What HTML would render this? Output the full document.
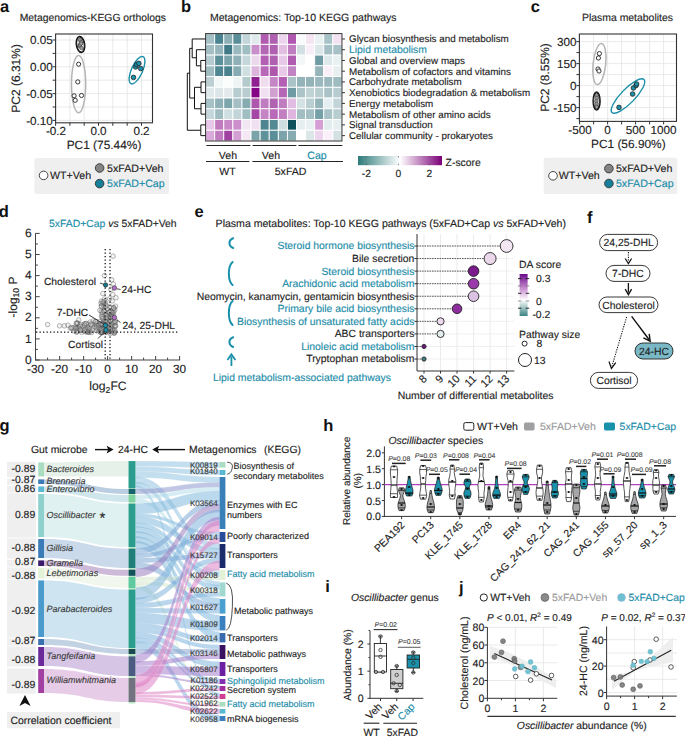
<!DOCTYPE html>
<html><head><meta charset="utf-8"><style>
html,body{margin:0;padding:0;background:#fff;}
svg{display:block;}
text{font-family:"Liberation Sans", sans-serif;text-rendering:geometricPrecision;}
</style></head><body>
<svg width="685" height="737" viewBox="0 0 685 737">
<rect x="0" y="0" width="685" height="737" fill="#fff"/>
<text x="0.00" y="11.80" font-size="16.5" text-anchor="start" fill="#111" font-weight="bold" font-style="normal" >a</text>
<text x="19.70" y="21.00" font-size="10.36" text-anchor="start" fill="#222" font-weight="normal" font-style="normal"  stroke="#222" stroke-width="0.13">Metagenomics-KEGG orthologs</text>
<line x1="69.90" y1="34.00" x2="69.90" y2="122.80" stroke="#e3e3e3" stroke-width="0.8" />
<line x1="84.20" y1="34.00" x2="84.20" y2="122.80" stroke="#e3e3e3" stroke-width="0.8" />
<line x1="98.50" y1="34.00" x2="98.50" y2="122.80" stroke="#e3e3e3" stroke-width="0.8" />
<line x1="112.80" y1="34.00" x2="112.80" y2="122.80" stroke="#e3e3e3" stroke-width="0.8" />
<line x1="127.20" y1="34.00" x2="127.20" y2="122.80" stroke="#e3e3e3" stroke-width="0.8" />
<line x1="141.50" y1="34.00" x2="141.50" y2="122.80" stroke="#e3e3e3" stroke-width="0.8" />
<line x1="55.60" y1="40.00" x2="152.50" y2="40.00" stroke="#e3e3e3" stroke-width="0.8" />
<line x1="55.60" y1="53.40" x2="152.50" y2="53.40" stroke="#e3e3e3" stroke-width="0.8" />
<line x1="55.60" y1="66.80" x2="152.50" y2="66.80" stroke="#e3e3e3" stroke-width="0.8" />
<line x1="55.60" y1="80.20" x2="152.50" y2="80.20" stroke="#e3e3e3" stroke-width="0.8" />
<line x1="55.60" y1="93.60" x2="152.50" y2="93.60" stroke="#e3e3e3" stroke-width="0.8" />
<line x1="55.60" y1="107.00" x2="152.50" y2="107.00" stroke="#e3e3e3" stroke-width="0.8" />
<line x1="55.60" y1="120.40" x2="152.50" y2="120.40" stroke="#e3e3e3" stroke-width="0.8" />
<rect x="55.60" y="34.00" width="96.90" height="88.80" fill="none" stroke="#333" stroke-width="1.1" />
<line x1="52.60" y1="40.00" x2="55.60" y2="40.00" stroke="#333" stroke-width="1" />
<line x1="52.60" y1="53.40" x2="55.60" y2="53.40" stroke="#333" stroke-width="1" />
<line x1="52.60" y1="66.80" x2="55.60" y2="66.80" stroke="#333" stroke-width="1" />
<line x1="52.60" y1="80.20" x2="55.60" y2="80.20" stroke="#333" stroke-width="1" />
<line x1="52.60" y1="93.60" x2="55.60" y2="93.60" stroke="#333" stroke-width="1" />
<line x1="52.60" y1="107.00" x2="55.60" y2="107.00" stroke="#333" stroke-width="1" />
<line x1="52.60" y1="120.40" x2="55.60" y2="120.40" stroke="#333" stroke-width="1" />
<line x1="55.60" y1="122.80" x2="55.60" y2="125.80" stroke="#333" stroke-width="1" />
<line x1="69.90" y1="122.80" x2="69.90" y2="125.80" stroke="#333" stroke-width="1" />
<line x1="84.20" y1="122.80" x2="84.20" y2="125.80" stroke="#333" stroke-width="1" />
<line x1="98.50" y1="122.80" x2="98.50" y2="125.80" stroke="#333" stroke-width="1" />
<line x1="112.80" y1="122.80" x2="112.80" y2="125.80" stroke="#333" stroke-width="1" />
<line x1="127.20" y1="122.80" x2="127.20" y2="125.80" stroke="#333" stroke-width="1" />
<line x1="141.50" y1="122.80" x2="141.50" y2="125.80" stroke="#333" stroke-width="1" />
<text x="52.80" y="44.10" font-size="11.7" text-anchor="end" fill="#222" font-weight="normal" font-style="normal"  stroke="#222" stroke-width="0.13">0.05</text>
<text x="52.80" y="70.90" font-size="11.7" text-anchor="end" fill="#222" font-weight="normal" font-style="normal"  stroke="#222" stroke-width="0.13">0.00</text>
<text x="52.80" y="97.70" font-size="11.7" text-anchor="end" fill="#222" font-weight="normal" font-style="normal"  stroke="#222" stroke-width="0.13">-0.05</text>
<text x="52.80" y="124.50" font-size="11.7" text-anchor="end" fill="#222" font-weight="normal" font-style="normal"  stroke="#222" stroke-width="0.13">-0.10</text>
<text x="56.00" y="134.80" font-size="11.7" text-anchor="middle" fill="#222" font-weight="normal" font-style="normal"  stroke="#222" stroke-width="0.13">-0.2</text>
<text x="98.50" y="134.80" font-size="11.7" text-anchor="middle" fill="#222" font-weight="normal" font-style="normal"  stroke="#222" stroke-width="0.13">0.0</text>
<text x="141.50" y="134.80" font-size="11.7" text-anchor="middle" fill="#222" font-weight="normal" font-style="normal"  stroke="#222" stroke-width="0.13">0.2</text>
<text x="104.00" y="149.00" font-size="11.9" text-anchor="middle" fill="#222" font-weight="normal" font-style="normal"  stroke="#222" stroke-width="0.13">PC1 (75.44%)</text>
<text x="0" y="0" font-size="12" text-anchor="middle" fill="#222" transform="translate(20.2,78.4) rotate(-90)" stroke="#222" stroke-width="0.13">PC2 (6.31%)</text>
<ellipse cx="78.6" cy="84.1" rx="7.1" ry="28.7" fill="none" stroke="#b4b4b4" stroke-width="1.5"/>
<circle cx="78.60" cy="64.20" r="2.10" fill="#fff" stroke="#222" stroke-width="0.9" />
<circle cx="77.80" cy="81.90" r="2.10" fill="#fff" stroke="#222" stroke-width="0.9" />
<circle cx="74.10" cy="95.80" r="2.10" fill="#fff" stroke="#222" stroke-width="0.9" />
<circle cx="75.20" cy="100.30" r="2.10" fill="#fff" stroke="#222" stroke-width="0.9" />
<circle cx="81.50" cy="95.50" r="2.10" fill="#fff" stroke="#222" stroke-width="0.9" />
<circle cx="80.00" cy="40.00" r="1.80" fill="#9a9a9a" stroke="#333" stroke-width="0.55" />
<circle cx="81.00" cy="42.00" r="1.80" fill="#9a9a9a" stroke="#333" stroke-width="0.55" />
<circle cx="80.50" cy="44.00" r="1.80" fill="#9a9a9a" stroke="#333" stroke-width="0.55" />
<circle cx="79.50" cy="46.00" r="1.80" fill="#9a9a9a" stroke="#333" stroke-width="0.55" />
<circle cx="81.50" cy="48.00" r="1.80" fill="#9a9a9a" stroke="#333" stroke-width="0.55" />
<circle cx="80.00" cy="45.00" r="1.80" fill="#9a9a9a" stroke="#333" stroke-width="0.55" />
<circle cx="81.00" cy="43.50" r="1.80" fill="#9a9a9a" stroke="#333" stroke-width="0.55" />
<ellipse cx="80.5" cy="44.5" rx="4.3" ry="8.2" fill="none" stroke="#111" stroke-width="1.2" transform="rotate(-8 80.5 44.5)"/>
<ellipse cx="80.5" cy="44.5" rx="3.7" ry="7.4" fill="none" stroke="#111" stroke-width="0.9" transform="rotate(-8 80.5 44.5)"/>
<ellipse cx="137" cy="70.2" rx="5.6" ry="14.8" fill="none" stroke="#1a8fa8" stroke-width="1.4" transform="rotate(24 137 70.2)"/>
<circle cx="133.50" cy="77.40" r="2.30" fill="#1a91aa" stroke="#222" stroke-width="0.8" />
<circle cx="135.60" cy="66.90" r="2.30" fill="#1a91aa" stroke="#222" stroke-width="0.8" />
<circle cx="136.70" cy="64.50" r="2.30" fill="#1a91aa" stroke="#222" stroke-width="0.8" />
<circle cx="138.80" cy="63.40" r="2.30" fill="#1a91aa" stroke="#222" stroke-width="0.8" />
<circle cx="140.70" cy="68.50" r="2.30" fill="#1a91aa" stroke="#222" stroke-width="0.8" />
<rect x="34.4" y="158" width="134.6" height="36" rx="2" fill="#efefef"/>
<circle cx="43.60" cy="175.40" r="4.30" fill="#fff" stroke="#333" stroke-width="0.9" />
<text x="50.00" y="179.00" font-size="10.65" text-anchor="start" fill="#222" font-weight="normal" font-style="normal"  stroke="#222" stroke-width="0.13">WT+Veh</text>
<circle cx="99.60" cy="168.00" r="4.30" fill="#858585" stroke="#333" stroke-width="0.9" />
<text x="107.00" y="172.00" font-size="10.65" text-anchor="start" fill="#222" font-weight="normal" font-style="normal"  stroke="#222" stroke-width="0.13">5xFAD+Veh</text>
<circle cx="99.60" cy="183.60" r="4.30" fill="#16809a" stroke="#333" stroke-width="0.9" />
<text x="107.00" y="187.30" font-size="10.65" text-anchor="start" fill="#1a8ca8" font-weight="normal" font-style="normal"  stroke="#1a8ca8" stroke-width="0.13">5xFAD+Cap</text>
<text x="530.80" y="11.80" font-size="16.5" text-anchor="start" fill="#111" font-weight="bold" font-style="normal" >c</text>
<text x="582.00" y="20.80" font-size="10.43" text-anchor="start" fill="#222" font-weight="normal" font-style="normal"  stroke="#222" stroke-width="0.13">Plasma metabolites</text>
<line x1="593.60" y1="34.00" x2="593.60" y2="121.40" stroke="#e3e3e3" stroke-width="0.8" />
<line x1="607.60" y1="34.00" x2="607.60" y2="121.40" stroke="#e3e3e3" stroke-width="0.8" />
<line x1="621.60" y1="34.00" x2="621.60" y2="121.40" stroke="#e3e3e3" stroke-width="0.8" />
<line x1="635.60" y1="34.00" x2="635.60" y2="121.40" stroke="#e3e3e3" stroke-width="0.8" />
<line x1="649.60" y1="34.00" x2="649.60" y2="121.40" stroke="#e3e3e3" stroke-width="0.8" />
<line x1="663.60" y1="34.00" x2="663.60" y2="121.40" stroke="#e3e3e3" stroke-width="0.8" />
<line x1="579.40" y1="41.60" x2="676.50" y2="41.60" stroke="#e3e3e3" stroke-width="0.8" />
<line x1="579.40" y1="52.60" x2="676.50" y2="52.60" stroke="#e3e3e3" stroke-width="0.8" />
<line x1="579.40" y1="63.60" x2="676.50" y2="63.60" stroke="#e3e3e3" stroke-width="0.8" />
<line x1="579.40" y1="74.60" x2="676.50" y2="74.60" stroke="#e3e3e3" stroke-width="0.8" />
<line x1="579.40" y1="85.60" x2="676.50" y2="85.60" stroke="#e3e3e3" stroke-width="0.8" />
<line x1="579.40" y1="96.60" x2="676.50" y2="96.60" stroke="#e3e3e3" stroke-width="0.8" />
<line x1="579.40" y1="107.60" x2="676.50" y2="107.60" stroke="#e3e3e3" stroke-width="0.8" />
<line x1="579.40" y1="118.60" x2="676.50" y2="118.60" stroke="#e3e3e3" stroke-width="0.8" />
<rect x="579.40" y="34.00" width="97.10" height="87.40" fill="none" stroke="#333" stroke-width="1.1" />
<line x1="576.40" y1="41.60" x2="579.40" y2="41.60" stroke="#333" stroke-width="1" />
<line x1="576.40" y1="52.60" x2="579.40" y2="52.60" stroke="#333" stroke-width="1" />
<line x1="576.40" y1="63.60" x2="579.40" y2="63.60" stroke="#333" stroke-width="1" />
<line x1="576.40" y1="74.60" x2="579.40" y2="74.60" stroke="#333" stroke-width="1" />
<line x1="576.40" y1="85.60" x2="579.40" y2="85.60" stroke="#333" stroke-width="1" />
<line x1="576.40" y1="96.60" x2="579.40" y2="96.60" stroke="#333" stroke-width="1" />
<line x1="576.40" y1="107.60" x2="579.40" y2="107.60" stroke="#333" stroke-width="1" />
<line x1="576.40" y1="118.60" x2="579.40" y2="118.60" stroke="#333" stroke-width="1" />
<line x1="579.60" y1="121.40" x2="579.60" y2="124.40" stroke="#333" stroke-width="1" />
<line x1="593.60" y1="121.40" x2="593.60" y2="124.40" stroke="#333" stroke-width="1" />
<line x1="607.60" y1="121.40" x2="607.60" y2="124.40" stroke="#333" stroke-width="1" />
<line x1="621.60" y1="121.40" x2="621.60" y2="124.40" stroke="#333" stroke-width="1" />
<line x1="635.60" y1="121.40" x2="635.60" y2="124.40" stroke="#333" stroke-width="1" />
<line x1="649.60" y1="121.40" x2="649.60" y2="124.40" stroke="#333" stroke-width="1" />
<line x1="663.60" y1="121.40" x2="663.60" y2="124.40" stroke="#333" stroke-width="1" />
<text x="576.60" y="45.70" font-size="11.7" text-anchor="end" fill="#222" font-weight="normal" font-style="normal"  stroke="#222" stroke-width="0.13">300</text>
<text x="576.60" y="67.70" font-size="11.7" text-anchor="end" fill="#222" font-weight="normal" font-style="normal"  stroke="#222" stroke-width="0.13">150</text>
<text x="576.60" y="89.70" font-size="11.7" text-anchor="end" fill="#222" font-weight="normal" font-style="normal"  stroke="#222" stroke-width="0.13">0</text>
<text x="576.60" y="111.70" font-size="11.7" text-anchor="end" fill="#222" font-weight="normal" font-style="normal"  stroke="#222" stroke-width="0.13">-150</text>
<text x="580.00" y="133.80" font-size="11.7" text-anchor="middle" fill="#222" font-weight="normal" font-style="normal"  stroke="#222" stroke-width="0.13">-500</text>
<text x="607.60" y="133.80" font-size="11.7" text-anchor="middle" fill="#222" font-weight="normal" font-style="normal"  stroke="#222" stroke-width="0.13">0</text>
<text x="635.60" y="133.80" font-size="11.7" text-anchor="middle" fill="#222" font-weight="normal" font-style="normal"  stroke="#222" stroke-width="0.13">500</text>
<text x="663.60" y="133.80" font-size="11.7" text-anchor="middle" fill="#222" font-weight="normal" font-style="normal"  stroke="#222" stroke-width="0.13">1000</text>
<text x="628.30" y="148.00" font-size="11.9" text-anchor="middle" fill="#222" font-weight="normal" font-style="normal"  stroke="#222" stroke-width="0.13">PC1 (56.90%)</text>
<text x="0" y="0" font-size="12" text-anchor="middle" fill="#222" transform="translate(548.8,77.5) rotate(-90)" stroke="#222" stroke-width="0.13">PC2 (8.55%)</text>
<ellipse cx="599.4" cy="64" rx="6.3" ry="20.7" fill="none" stroke="#b4b4b4" stroke-width="1.5" transform="rotate(6 599.4 64)"/>
<circle cx="599.40" cy="53.60" r="2.10" fill="#fff" stroke="#222" stroke-width="0.9" />
<circle cx="598.40" cy="58.00" r="2.10" fill="#fff" stroke="#222" stroke-width="0.9" />
<circle cx="598.00" cy="69.00" r="2.10" fill="#fff" stroke="#222" stroke-width="0.9" />
<circle cx="599.00" cy="71.00" r="2.10" fill="#fff" stroke="#222" stroke-width="0.9" />
<circle cx="596.60" cy="95.00" r="1.80" fill="#9a9a9a" stroke="#333" stroke-width="0.55" />
<circle cx="596.80" cy="98.00" r="1.80" fill="#9a9a9a" stroke="#333" stroke-width="0.55" />
<circle cx="596.40" cy="101.00" r="1.80" fill="#9a9a9a" stroke="#333" stroke-width="0.55" />
<circle cx="596.60" cy="104.00" r="1.80" fill="#9a9a9a" stroke="#333" stroke-width="0.55" />
<circle cx="596.80" cy="107.00" r="1.80" fill="#9a9a9a" stroke="#333" stroke-width="0.55" />
<ellipse cx="596.6" cy="101" rx="3.6" ry="9.2" fill="none" stroke="#111" stroke-width="1.2"/>
<ellipse cx="596.6" cy="101" rx="2.9" ry="8.4" fill="none" stroke="#111" stroke-width="0.8"/>
<ellipse cx="628" cy="96" rx="7" ry="23" fill="none" stroke="#1a8fa8" stroke-width="1.4" transform="rotate(44 628 96)"/>
<circle cx="619.00" cy="107.40" r="2.30" fill="#1a91aa" stroke="#222" stroke-width="0.8" />
<circle cx="632.60" cy="94.00" r="2.30" fill="#1a91aa" stroke="#222" stroke-width="0.8" />
<circle cx="633.40" cy="88.00" r="2.30" fill="#1a91aa" stroke="#222" stroke-width="0.8" />
<circle cx="636.00" cy="85.60" r="2.30" fill="#1a91aa" stroke="#222" stroke-width="0.8" />
<circle cx="636.60" cy="84.00" r="2.30" fill="#1a91aa" stroke="#222" stroke-width="0.8" />
<rect x="543.7" y="157.7" width="133.5" height="36.3" rx="2" fill="#efefef"/>
<circle cx="553.00" cy="175.80" r="4.30" fill="#fff" stroke="#333" stroke-width="0.9" />
<text x="558.70" y="179.40" font-size="10.65" text-anchor="start" fill="#222" font-weight="normal" font-style="normal"  stroke="#222" stroke-width="0.13">WT+Veh</text>
<circle cx="608.90" cy="168.60" r="4.30" fill="#858585" stroke="#333" stroke-width="0.9" />
<text x="615.90" y="172.30" font-size="10.65" text-anchor="start" fill="#222" font-weight="normal" font-style="normal"  stroke="#222" stroke-width="0.13">5xFAD+Veh</text>
<circle cx="608.90" cy="183.50" r="4.30" fill="#16809a" stroke="#333" stroke-width="0.9" />
<text x="615.90" y="187.30" font-size="10.65" text-anchor="start" fill="#1a8ca8" font-weight="normal" font-style="normal"  stroke="#1a8ca8" stroke-width="0.13">5xFAD+Cap</text>
<text x="181.00" y="11.80" font-size="16.5" text-anchor="start" fill="#111" font-weight="bold" font-style="normal" >b</text>
<text x="210.00" y="21.00" font-size="10.5" text-anchor="start" fill="#222" font-weight="normal" font-style="normal"  stroke="#222" stroke-width="0.13">Metagenomics: Top-10 KEGG pathways</text>
<rect x="205.60" y="33.60" width="9.09" height="10.74" fill="#a5c1c6" stroke="#fff" stroke-width="0.9" />
<rect x="214.69" y="33.60" width="9.09" height="10.74" fill="#4a8490" stroke="#fff" stroke-width="0.9" />
<rect x="223.78" y="33.60" width="9.09" height="10.74" fill="#8db0b6" stroke="#fff" stroke-width="0.9" />
<rect x="232.87" y="33.60" width="9.09" height="10.74" fill="#5a8e98" stroke="#fff" stroke-width="0.9" />
<rect x="241.96" y="33.60" width="9.09" height="10.74" fill="#c2d5d9" stroke="#fff" stroke-width="0.9" />
<rect x="251.05" y="33.60" width="9.09" height="10.74" fill="#e0eaec" stroke="#fff" stroke-width="0.9" />
<rect x="260.14" y="33.60" width="9.09" height="10.74" fill="#b05cb0" stroke="#fff" stroke-width="0.9" />
<rect x="269.23" y="33.60" width="9.09" height="10.74" fill="#b060b0" stroke="#fff" stroke-width="0.9" />
<rect x="278.32" y="33.60" width="9.09" height="10.74" fill="#ecd5ec" stroke="#fff" stroke-width="0.9" />
<rect x="287.41" y="33.60" width="9.09" height="10.74" fill="#b058b0" stroke="#fff" stroke-width="0.9" />
<rect x="296.50" y="33.60" width="9.09" height="10.74" fill="#f8fafb" stroke="#fff" stroke-width="0.9" />
<rect x="305.59" y="33.60" width="9.09" height="10.74" fill="#f5e5f3" stroke="#fff" stroke-width="0.9" />
<rect x="314.68" y="33.60" width="9.09" height="10.74" fill="#eaf1f2" stroke="#fff" stroke-width="0.9" />
<rect x="323.77" y="33.60" width="9.09" height="10.74" fill="#a8c3c7" stroke="#fff" stroke-width="0.9" />
<rect x="332.86" y="33.60" width="9.09" height="10.74" fill="#f3e3f2" stroke="#fff" stroke-width="0.9" />
<rect x="205.60" y="44.34" width="9.09" height="10.74" fill="#a3bfc4" stroke="#fff" stroke-width="0.9" />
<rect x="214.69" y="44.34" width="9.09" height="10.74" fill="#95b5bb" stroke="#fff" stroke-width="0.9" />
<rect x="223.78" y="44.34" width="9.09" height="10.74" fill="#3f7a86" stroke="#fff" stroke-width="0.9" />
<rect x="232.87" y="44.34" width="9.09" height="10.74" fill="#9ab9bf" stroke="#fff" stroke-width="0.9" />
<rect x="241.96" y="44.34" width="9.09" height="10.74" fill="#a0bdc2" stroke="#fff" stroke-width="0.9" />
<rect x="251.05" y="44.34" width="9.09" height="10.74" fill="#c98fcb" stroke="#fff" stroke-width="0.9" />
<rect x="260.14" y="44.34" width="9.09" height="10.74" fill="#b366b3" stroke="#fff" stroke-width="0.9" />
<rect x="269.23" y="44.34" width="9.09" height="10.74" fill="#b060b0" stroke="#fff" stroke-width="0.9" />
<rect x="278.32" y="44.34" width="9.09" height="10.74" fill="#e2bee2" stroke="#fff" stroke-width="0.9" />
<rect x="287.41" y="44.34" width="9.09" height="10.74" fill="#bf7cbf" stroke="#fff" stroke-width="0.9" />
<rect x="296.50" y="44.34" width="9.09" height="10.74" fill="#d2e0e3" stroke="#fff" stroke-width="0.9" />
<rect x="305.59" y="44.34" width="9.09" height="10.74" fill="#f7eef7" stroke="#fff" stroke-width="0.9" />
<rect x="314.68" y="44.34" width="9.09" height="10.74" fill="#dae6e8" stroke="#fff" stroke-width="0.9" />
<rect x="323.77" y="44.34" width="9.09" height="10.74" fill="#a3bfc4" stroke="#fff" stroke-width="0.9" />
<rect x="332.86" y="44.34" width="9.09" height="10.74" fill="#a7c1c6" stroke="#fff" stroke-width="0.9" />
<rect x="205.60" y="55.08" width="9.09" height="10.74" fill="#b5cbcf" stroke="#fff" stroke-width="0.9" />
<rect x="214.69" y="55.08" width="9.09" height="10.74" fill="#5b8f99" stroke="#fff" stroke-width="0.9" />
<rect x="223.78" y="55.08" width="9.09" height="10.74" fill="#7aa3aa" stroke="#fff" stroke-width="0.9" />
<rect x="232.87" y="55.08" width="9.09" height="10.74" fill="#8eb0b6" stroke="#fff" stroke-width="0.9" />
<rect x="241.96" y="55.08" width="9.09" height="10.74" fill="#c5d7da" stroke="#fff" stroke-width="0.9" />
<rect x="251.05" y="55.08" width="9.09" height="10.74" fill="#ecd8ec" stroke="#fff" stroke-width="0.9" />
<rect x="260.14" y="55.08" width="9.09" height="10.74" fill="#b35fb3" stroke="#fff" stroke-width="0.9" />
<rect x="269.23" y="55.08" width="9.09" height="10.74" fill="#b060b0" stroke="#fff" stroke-width="0.9" />
<rect x="278.32" y="55.08" width="9.09" height="10.74" fill="#e8c8e8" stroke="#fff" stroke-width="0.9" />
<rect x="287.41" y="55.08" width="9.09" height="10.74" fill="#b05ab0" stroke="#fff" stroke-width="0.9" />
<rect x="296.50" y="55.08" width="9.09" height="10.74" fill="#f3f7f7" stroke="#fff" stroke-width="0.9" />
<rect x="305.59" y="55.08" width="9.09" height="10.74" fill="#ffffff" stroke="#fff" stroke-width="0.9" />
<rect x="314.68" y="55.08" width="9.09" height="10.74" fill="#6f9ba4" stroke="#fff" stroke-width="0.9" />
<rect x="323.77" y="55.08" width="9.09" height="10.74" fill="#dde8ea" stroke="#fff" stroke-width="0.9" />
<rect x="332.86" y="55.08" width="9.09" height="10.74" fill="#e9f0f1" stroke="#fff" stroke-width="0.9" />
<rect x="205.60" y="65.82" width="9.09" height="10.74" fill="#9fbcc1" stroke="#fff" stroke-width="0.9" />
<rect x="214.69" y="65.82" width="9.09" height="10.74" fill="#4e8691" stroke="#fff" stroke-width="0.9" />
<rect x="223.78" y="65.82" width="9.09" height="10.74" fill="#4a838e" stroke="#fff" stroke-width="0.9" />
<rect x="232.87" y="65.82" width="9.09" height="10.74" fill="#86abb2" stroke="#fff" stroke-width="0.9" />
<rect x="241.96" y="65.82" width="9.09" height="10.74" fill="#d0dfe1" stroke="#fff" stroke-width="0.9" />
<rect x="251.05" y="65.82" width="9.09" height="10.74" fill="#dcb5dc" stroke="#fff" stroke-width="0.9" />
<rect x="260.14" y="65.82" width="9.09" height="10.74" fill="#b968b9" stroke="#fff" stroke-width="0.9" />
<rect x="269.23" y="65.82" width="9.09" height="10.74" fill="#ad58ad" stroke="#fff" stroke-width="0.9" />
<rect x="278.32" y="65.82" width="9.09" height="10.74" fill="#e8c9e8" stroke="#fff" stroke-width="0.9" />
<rect x="287.41" y="65.82" width="9.09" height="10.74" fill="#c283c2" stroke="#fff" stroke-width="0.9" />
<rect x="296.50" y="65.82" width="9.09" height="10.74" fill="#ffffff" stroke="#fff" stroke-width="0.9" />
<rect x="305.59" y="65.82" width="9.09" height="10.74" fill="#ffffff" stroke="#fff" stroke-width="0.9" />
<rect x="314.68" y="65.82" width="9.09" height="10.74" fill="#96b5bb" stroke="#fff" stroke-width="0.9" />
<rect x="323.77" y="65.82" width="9.09" height="10.74" fill="#f8eff8" stroke="#fff" stroke-width="0.9" />
<rect x="332.86" y="65.82" width="9.09" height="10.74" fill="#e8eff0" stroke="#fff" stroke-width="0.9" />
<rect x="205.60" y="76.56" width="9.09" height="10.74" fill="#bcd0d4" stroke="#fff" stroke-width="0.9" />
<rect x="214.69" y="76.56" width="9.09" height="10.74" fill="#f1f6f6" stroke="#fff" stroke-width="0.9" />
<rect x="223.78" y="76.56" width="9.09" height="10.74" fill="#fbfcfc" stroke="#fff" stroke-width="0.9" />
<rect x="232.87" y="76.56" width="9.09" height="10.74" fill="#eef3f3" stroke="#fff" stroke-width="0.9" />
<rect x="241.96" y="76.56" width="9.09" height="10.74" fill="#b4cacd" stroke="#fff" stroke-width="0.9" />
<rect x="251.05" y="76.56" width="9.09" height="10.74" fill="#8f2290" stroke="#fff" stroke-width="0.9" />
<rect x="260.14" y="76.56" width="9.09" height="10.74" fill="#efdcef" stroke="#fff" stroke-width="0.9" />
<rect x="269.23" y="76.56" width="9.09" height="10.74" fill="#c486c4" stroke="#fff" stroke-width="0.9" />
<rect x="278.32" y="76.56" width="9.09" height="10.74" fill="#b35fb3" stroke="#fff" stroke-width="0.9" />
<rect x="287.41" y="76.56" width="9.09" height="10.74" fill="#a9c3c7" stroke="#fff" stroke-width="0.9" />
<rect x="296.50" y="76.56" width="9.09" height="10.74" fill="#93b3b9" stroke="#fff" stroke-width="0.9" />
<rect x="305.59" y="76.56" width="9.09" height="10.74" fill="#93b3b9" stroke="#fff" stroke-width="0.9" />
<rect x="314.68" y="76.56" width="9.09" height="10.74" fill="#9ab8be" stroke="#fff" stroke-width="0.9" />
<rect x="323.77" y="76.56" width="9.09" height="10.74" fill="#9ab8be" stroke="#fff" stroke-width="0.9" />
<rect x="332.86" y="76.56" width="9.09" height="10.74" fill="#9fbcc1" stroke="#fff" stroke-width="0.9" />
<rect x="205.60" y="87.30" width="9.09" height="10.74" fill="#dfe8ea" stroke="#fff" stroke-width="0.9" />
<rect x="214.69" y="87.30" width="9.09" height="10.74" fill="#dce6e8" stroke="#fff" stroke-width="0.9" />
<rect x="223.78" y="87.30" width="9.09" height="10.74" fill="#e2eaec" stroke="#fff" stroke-width="0.9" />
<rect x="232.87" y="87.30" width="9.09" height="10.74" fill="#b7cccf" stroke="#fff" stroke-width="0.9" />
<rect x="241.96" y="87.30" width="9.09" height="10.74" fill="#b9cdd1" stroke="#fff" stroke-width="0.9" />
<rect x="251.05" y="87.30" width="9.09" height="10.74" fill="#850385" stroke="#fff" stroke-width="0.9" />
<rect x="260.14" y="87.30" width="9.09" height="10.74" fill="#f1e0f1" stroke="#fff" stroke-width="0.9" />
<rect x="269.23" y="87.30" width="9.09" height="10.74" fill="#d0a0d0" stroke="#fff" stroke-width="0.9" />
<rect x="278.32" y="87.30" width="9.09" height="10.74" fill="#b566b5" stroke="#fff" stroke-width="0.9" />
<rect x="287.41" y="87.30" width="9.09" height="10.74" fill="#6f9ba4" stroke="#fff" stroke-width="0.9" />
<rect x="296.50" y="87.30" width="9.09" height="10.74" fill="#abc4c8" stroke="#fff" stroke-width="0.9" />
<rect x="305.59" y="87.30" width="9.09" height="10.74" fill="#bfd2d6" stroke="#fff" stroke-width="0.9" />
<rect x="314.68" y="87.30" width="9.09" height="10.74" fill="#b8cdd0" stroke="#fff" stroke-width="0.9" />
<rect x="323.77" y="87.30" width="9.09" height="10.74" fill="#a9c3c7" stroke="#fff" stroke-width="0.9" />
<rect x="332.86" y="87.30" width="9.09" height="10.74" fill="#b7ccd0" stroke="#fff" stroke-width="0.9" />
<rect x="205.60" y="98.04" width="9.09" height="10.74" fill="#a7c2c6" stroke="#fff" stroke-width="0.9" />
<rect x="214.69" y="98.04" width="9.09" height="10.74" fill="#8fb0b6" stroke="#fff" stroke-width="0.9" />
<rect x="223.78" y="98.04" width="9.09" height="10.74" fill="#7da5ac" stroke="#fff" stroke-width="0.9" />
<rect x="232.87" y="98.04" width="9.09" height="10.74" fill="#a3bfc4" stroke="#fff" stroke-width="0.9" />
<rect x="241.96" y="98.04" width="9.09" height="10.74" fill="#86abb1" stroke="#fff" stroke-width="0.9" />
<rect x="251.05" y="98.04" width="9.09" height="10.74" fill="#ad58ad" stroke="#fff" stroke-width="0.9" />
<rect x="260.14" y="98.04" width="9.09" height="10.74" fill="#c07cc0" stroke="#fff" stroke-width="0.9" />
<rect x="269.23" y="98.04" width="9.09" height="10.74" fill="#b063b0" stroke="#fff" stroke-width="0.9" />
<rect x="278.32" y="98.04" width="9.09" height="10.74" fill="#c07cc0" stroke="#fff" stroke-width="0.9" />
<rect x="287.41" y="98.04" width="9.09" height="10.74" fill="#e2bde2" stroke="#fff" stroke-width="0.9" />
<rect x="296.50" y="98.04" width="9.09" height="10.74" fill="#d5e2e4" stroke="#fff" stroke-width="0.9" />
<rect x="305.59" y="98.04" width="9.09" height="10.74" fill="#bacfd2" stroke="#fff" stroke-width="0.9" />
<rect x="314.68" y="98.04" width="9.09" height="10.74" fill="#94b4ba" stroke="#fff" stroke-width="0.9" />
<rect x="323.77" y="98.04" width="9.09" height="10.74" fill="#e5eef0" stroke="#fff" stroke-width="0.9" />
<rect x="332.86" y="98.04" width="9.09" height="10.74" fill="#c3d5d8" stroke="#fff" stroke-width="0.9" />
<rect x="205.60" y="108.78" width="9.09" height="10.74" fill="#c5d7da" stroke="#fff" stroke-width="0.9" />
<rect x="214.69" y="108.78" width="9.09" height="10.74" fill="#9fbcc1" stroke="#fff" stroke-width="0.9" />
<rect x="223.78" y="108.78" width="9.09" height="10.74" fill="#cfdee0" stroke="#fff" stroke-width="0.9" />
<rect x="232.87" y="108.78" width="9.09" height="10.74" fill="#c3d5d8" stroke="#fff" stroke-width="0.9" />
<rect x="241.96" y="108.78" width="9.09" height="10.74" fill="#a0bdc2" stroke="#fff" stroke-width="0.9" />
<rect x="251.05" y="108.78" width="9.09" height="10.74" fill="#a548a5" stroke="#fff" stroke-width="0.9" />
<rect x="260.14" y="108.78" width="9.09" height="10.74" fill="#c585c5" stroke="#fff" stroke-width="0.9" />
<rect x="269.23" y="108.78" width="9.09" height="10.74" fill="#b86ab8" stroke="#fff" stroke-width="0.9" />
<rect x="278.32" y="108.78" width="9.09" height="10.74" fill="#c27fc2" stroke="#fff" stroke-width="0.9" />
<rect x="287.41" y="108.78" width="9.09" height="10.74" fill="#dfb5df" stroke="#fff" stroke-width="0.9" />
<rect x="296.50" y="108.78" width="9.09" height="10.74" fill="#a1bec3" stroke="#fff" stroke-width="0.9" />
<rect x="305.59" y="108.78" width="9.09" height="10.74" fill="#a3bfc4" stroke="#fff" stroke-width="0.9" />
<rect x="314.68" y="108.78" width="9.09" height="10.74" fill="#76a0a8" stroke="#fff" stroke-width="0.9" />
<rect x="323.77" y="108.78" width="9.09" height="10.74" fill="#a8c2c7" stroke="#fff" stroke-width="0.9" />
<rect x="332.86" y="108.78" width="9.09" height="10.74" fill="#b8cdd0" stroke="#fff" stroke-width="0.9" />
<rect x="205.60" y="119.52" width="9.09" height="10.74" fill="#e8c8e8" stroke="#fff" stroke-width="0.9" />
<rect x="214.69" y="119.52" width="9.09" height="10.74" fill="#c07ac0" stroke="#fff" stroke-width="0.9" />
<rect x="223.78" y="119.52" width="9.09" height="10.74" fill="#c888c8" stroke="#fff" stroke-width="0.9" />
<rect x="232.87" y="119.52" width="9.09" height="10.74" fill="#cb8fcb" stroke="#fff" stroke-width="0.9" />
<rect x="241.96" y="119.52" width="9.09" height="10.74" fill="#f3e6f3" stroke="#fff" stroke-width="0.9" />
<rect x="251.05" y="119.52" width="9.09" height="10.74" fill="#f0e0f0" stroke="#fff" stroke-width="0.9" />
<rect x="260.14" y="119.52" width="9.09" height="10.74" fill="#4e8590" stroke="#fff" stroke-width="0.9" />
<rect x="269.23" y="119.52" width="9.09" height="10.74" fill="#548a94" stroke="#fff" stroke-width="0.9" />
<rect x="278.32" y="119.52" width="9.09" height="10.74" fill="#cfdee0" stroke="#fff" stroke-width="0.9" />
<rect x="287.41" y="119.52" width="9.09" height="10.74" fill="#0f4f5c" stroke="#fff" stroke-width="0.9" />
<rect x="296.50" y="119.52" width="9.09" height="10.74" fill="#e6eef0" stroke="#fff" stroke-width="0.9" />
<rect x="305.59" y="119.52" width="9.09" height="10.74" fill="#e9f0f1" stroke="#fff" stroke-width="0.9" />
<rect x="314.68" y="119.52" width="9.09" height="10.74" fill="#d59ed5" stroke="#fff" stroke-width="0.9" />
<rect x="323.77" y="119.52" width="9.09" height="10.74" fill="#e2ebed" stroke="#fff" stroke-width="0.9" />
<rect x="332.86" y="119.52" width="9.09" height="10.74" fill="#e6eef0" stroke="#fff" stroke-width="0.9" />
<rect x="205.60" y="130.26" width="9.09" height="10.74" fill="#d9a9d9" stroke="#fff" stroke-width="0.9" />
<rect x="214.69" y="130.26" width="9.09" height="10.74" fill="#c07ac0" stroke="#fff" stroke-width="0.9" />
<rect x="223.78" y="130.26" width="9.09" height="10.74" fill="#a040a0" stroke="#fff" stroke-width="0.9" />
<rect x="232.87" y="130.26" width="9.09" height="10.74" fill="#d49fd3" stroke="#fff" stroke-width="0.9" />
<rect x="241.96" y="130.26" width="9.09" height="10.74" fill="#f5e8f5" stroke="#fff" stroke-width="0.9" />
<rect x="251.05" y="130.26" width="9.09" height="10.74" fill="#7aa3aa" stroke="#fff" stroke-width="0.9" />
<rect x="260.14" y="130.26" width="9.09" height="10.74" fill="#60929b" stroke="#fff" stroke-width="0.9" />
<rect x="269.23" y="130.26" width="9.09" height="10.74" fill="#5a8e98" stroke="#fff" stroke-width="0.9" />
<rect x="278.32" y="130.26" width="9.09" height="10.74" fill="#7aa3aa" stroke="#fff" stroke-width="0.9" />
<rect x="287.41" y="130.26" width="9.09" height="10.74" fill="#86abb1" stroke="#fff" stroke-width="0.9" />
<rect x="296.50" y="130.26" width="9.09" height="10.74" fill="#ffffff" stroke="#fff" stroke-width="0.9" />
<rect x="305.59" y="130.26" width="9.09" height="10.74" fill="#dae6e8" stroke="#fff" stroke-width="0.9" />
<rect x="314.68" y="130.26" width="9.09" height="10.74" fill="#ecd4ec" stroke="#fff" stroke-width="0.9" />
<rect x="323.77" y="130.26" width="9.09" height="10.74" fill="#f9f0f9" stroke="#fff" stroke-width="0.9" />
<rect x="332.86" y="130.26" width="9.09" height="10.74" fill="#d3e1e3" stroke="#fff" stroke-width="0.9" />
<rect x="205.60" y="33.60" width="136.35" height="107.40" fill="none" stroke="#333" stroke-width="1" />
<line x1="341.95" y1="38.97" x2="344.95" y2="38.97" stroke="#333" stroke-width="1" />
<text x="349.00" y="42.47" font-size="9.85" text-anchor="start" fill="#222" font-weight="normal" font-style="normal"  stroke="#222" stroke-width="0.13">Glycan biosynthesis and metabolism</text>
<line x1="341.95" y1="49.71" x2="344.95" y2="49.71" stroke="#333" stroke-width="1" />
<text x="349.00" y="53.21" font-size="10.4" text-anchor="start" fill="#1a8ca8" font-weight="normal" font-style="normal"  stroke="#1a8ca8" stroke-width="0.13">Lipid metabolism</text>
<line x1="341.95" y1="60.45" x2="344.95" y2="60.45" stroke="#333" stroke-width="1" />
<text x="349.00" y="63.95" font-size="9.85" text-anchor="start" fill="#222" font-weight="normal" font-style="normal"  stroke="#222" stroke-width="0.13">Global and overview maps</text>
<line x1="341.95" y1="71.19" x2="344.95" y2="71.19" stroke="#333" stroke-width="1" />
<text x="349.00" y="74.69" font-size="9.85" text-anchor="start" fill="#222" font-weight="normal" font-style="normal"  stroke="#222" stroke-width="0.13">Metabolism of cofactors and vitamins</text>
<line x1="341.95" y1="81.93" x2="344.95" y2="81.93" stroke="#333" stroke-width="1" />
<text x="349.00" y="85.43" font-size="9.85" text-anchor="start" fill="#222" font-weight="normal" font-style="normal"  stroke="#222" stroke-width="0.13">Carbohydrate metabolism</text>
<line x1="341.95" y1="92.67" x2="344.95" y2="92.67" stroke="#333" stroke-width="1" />
<text x="349.00" y="96.17" font-size="9.85" text-anchor="start" fill="#222" font-weight="normal" font-style="normal"  stroke="#222" stroke-width="0.13">Xenobiotics biodegradation &amp; metabolism</text>
<line x1="341.95" y1="103.41" x2="344.95" y2="103.41" stroke="#333" stroke-width="1" />
<text x="349.00" y="106.91" font-size="9.85" text-anchor="start" fill="#222" font-weight="normal" font-style="normal"  stroke="#222" stroke-width="0.13">Energy metabolism</text>
<line x1="341.95" y1="114.15" x2="344.95" y2="114.15" stroke="#333" stroke-width="1" />
<text x="349.00" y="117.65" font-size="9.85" text-anchor="start" fill="#222" font-weight="normal" font-style="normal"  stroke="#222" stroke-width="0.13">Metabolism of other amino acids</text>
<line x1="341.95" y1="124.89" x2="344.95" y2="124.89" stroke="#333" stroke-width="1" />
<text x="349.00" y="128.39" font-size="9.85" text-anchor="start" fill="#222" font-weight="normal" font-style="normal"  stroke="#222" stroke-width="0.13">Signal transduction</text>
<line x1="341.95" y1="135.63" x2="344.95" y2="135.63" stroke="#333" stroke-width="1" />
<text x="349.00" y="139.13" font-size="9.85" text-anchor="start" fill="#222" font-weight="normal" font-style="normal"  stroke="#222" stroke-width="0.13">Cellular community - prokaryotes</text>
<path d="M205.60,60.45 H200.80 V71.19 H205.60" fill="none" stroke="#111" stroke-width="1.0" />
<path d="M205.60,49.71 H196.40 V65.82 H200.80" fill="none" stroke="#111" stroke-width="1.0" />
<path d="M205.60,38.97 H192.20 V57.77 H196.40" fill="none" stroke="#111" stroke-width="1.0" />
<path d="M205.60,81.93 H201.00 V92.67 H205.60" fill="none" stroke="#111" stroke-width="1.0" />
<path d="M205.60,103.41 H201.00 V114.15 H205.60" fill="none" stroke="#111" stroke-width="1.0" />
<path d="M201.00,87.30 H194.50 V108.78 H201.00" fill="none" stroke="#111" stroke-width="1.0" />
<path d="M192.20,48.37 H189.70 V98.04 H194.50" fill="none" stroke="#111" stroke-width="1.0" />
<path d="M205.60,124.89 H200.80 V135.63 H205.60" fill="none" stroke="#111" stroke-width="1.0" />
<path d="M189.70,73.20 H187.30 V130.26 H200.80" fill="none" stroke="#111" stroke-width="1.0" />
<line x1="206.40" y1="145.50" x2="250.40" y2="145.50" stroke="#222" stroke-width="1.2" />
<line x1="252.60" y1="145.50" x2="296.40" y2="145.50" stroke="#222" stroke-width="1.2" />
<line x1="298.40" y1="145.50" x2="342.40" y2="145.50" stroke="#222" stroke-width="1.2" />
<text x="228.00" y="158.60" font-size="10.6" text-anchor="middle" fill="#222" font-weight="normal" font-style="normal"  stroke="#222" stroke-width="0.13">Veh</text>
<text x="271.00" y="158.60" font-size="10.6" text-anchor="middle" fill="#222" font-weight="normal" font-style="normal"  stroke="#222" stroke-width="0.13">Veh</text>
<text x="317.00" y="158.60" font-size="10.6" text-anchor="middle" fill="#1a8ca8" font-weight="normal" font-style="normal"  stroke="#1a8ca8" stroke-width="0.13">Cap</text>
<line x1="206.00" y1="161.50" x2="249.40" y2="161.50" stroke="#222" stroke-width="1.2" />
<line x1="252.40" y1="161.50" x2="343.00" y2="161.50" stroke="#222" stroke-width="1.2" />
<text x="227.60" y="174.60" font-size="10.6" text-anchor="middle" fill="#222" font-weight="normal" font-style="normal"  stroke="#222" stroke-width="0.13">WT</text>
<text x="290.60" y="174.60" font-size="10.6" text-anchor="middle" fill="#222" font-weight="normal" font-style="normal"  stroke="#222" stroke-width="0.13">5xFAD</text>
<defs><linearGradient id="zg" x1="0" x2="1" y1="0" y2="0"><stop offset="0" stop-color="#2e7a7a"/><stop offset="0.5" stop-color="#ffffff"/><stop offset="1" stop-color="#7a0078"/></linearGradient></defs>
<rect x="358.00" y="156.00" width="84.00" height="9.20" fill="url(#zg)" stroke="none" stroke-width="1" />
<line x1="366.40" y1="156.00" x2="366.40" y2="157.50" stroke="#555" stroke-width="0.7" />
<line x1="366.40" y1="163.70" x2="366.40" y2="165.20" stroke="#555" stroke-width="0.7" />
<line x1="398.40" y1="156.00" x2="398.40" y2="157.50" stroke="#555" stroke-width="0.7" />
<line x1="398.40" y1="163.70" x2="398.40" y2="165.20" stroke="#555" stroke-width="0.7" />
<line x1="429.40" y1="156.00" x2="429.40" y2="157.50" stroke="#555" stroke-width="0.7" />
<line x1="429.40" y1="163.70" x2="429.40" y2="165.20" stroke="#555" stroke-width="0.7" />
<text x="366.40" y="177.20" font-size="10.3" text-anchor="middle" fill="#222" font-weight="normal" font-style="normal"  stroke="#222" stroke-width="0.13">-2</text>
<text x="398.40" y="177.20" font-size="10.3" text-anchor="middle" fill="#222" font-weight="normal" font-style="normal"  stroke="#222" stroke-width="0.13">0</text>
<text x="429.40" y="177.20" font-size="10.3" text-anchor="middle" fill="#222" font-weight="normal" font-style="normal"  stroke="#222" stroke-width="0.13">2</text>
<text x="445.60" y="166.00" font-size="10.4" text-anchor="start" fill="#222" font-weight="normal" font-style="normal"  stroke="#222" stroke-width="0.13">Z-score</text>
<text x="-1.20" y="216.60" font-size="16.5" text-anchor="start" fill="#111" font-weight="bold" font-style="normal" >d</text>
<text x="49" y="227" font-size="10.4" fill="#222" stroke="#222" stroke-width="0.13"><tspan fill="#1a8ca8" stroke="#1a8ca8">5xFAD+Cap</tspan> <tspan font-style="italic">vs</tspan> 5xFAD+Veh</text>
<line x1="35.50" y1="233.20" x2="35.50" y2="360.50" stroke="#444" stroke-width="1" />
<line x1="35.50" y1="360.00" x2="180.20" y2="360.00" stroke="#444" stroke-width="1" />
<line x1="35.50" y1="360.00" x2="39.70" y2="360.00" stroke="#444" stroke-width="1" />
<line x1="35.50" y1="349.45" x2="37.90" y2="349.45" stroke="#444" stroke-width="1" />
<line x1="35.50" y1="338.90" x2="39.70" y2="338.90" stroke="#444" stroke-width="1" />
<line x1="35.50" y1="328.35" x2="37.90" y2="328.35" stroke="#444" stroke-width="1" />
<line x1="35.50" y1="317.80" x2="39.70" y2="317.80" stroke="#444" stroke-width="1" />
<line x1="35.50" y1="307.25" x2="37.90" y2="307.25" stroke="#444" stroke-width="1" />
<line x1="35.50" y1="296.70" x2="39.70" y2="296.70" stroke="#444" stroke-width="1" />
<line x1="35.50" y1="286.15" x2="37.90" y2="286.15" stroke="#444" stroke-width="1" />
<line x1="35.50" y1="275.60" x2="39.70" y2="275.60" stroke="#444" stroke-width="1" />
<line x1="35.50" y1="265.05" x2="37.90" y2="265.05" stroke="#444" stroke-width="1" />
<line x1="35.50" y1="254.50" x2="39.70" y2="254.50" stroke="#444" stroke-width="1" />
<line x1="35.50" y1="243.95" x2="37.90" y2="243.95" stroke="#444" stroke-width="1" />
<line x1="35.50" y1="233.40" x2="39.70" y2="233.40" stroke="#444" stroke-width="1" />
<text x="31.80" y="363.60" font-size="12" text-anchor="end" fill="#222" font-weight="normal" font-style="normal"  stroke="#222" stroke-width="0.13">0</text>
<text x="31.80" y="342.50" font-size="12" text-anchor="end" fill="#222" font-weight="normal" font-style="normal"  stroke="#222" stroke-width="0.13">1</text>
<text x="31.80" y="321.40" font-size="12" text-anchor="end" fill="#222" font-weight="normal" font-style="normal"  stroke="#222" stroke-width="0.13">2</text>
<text x="31.80" y="300.30" font-size="12" text-anchor="end" fill="#222" font-weight="normal" font-style="normal"  stroke="#222" stroke-width="0.13">3</text>
<text x="31.80" y="279.20" font-size="12" text-anchor="end" fill="#222" font-weight="normal" font-style="normal"  stroke="#222" stroke-width="0.13">4</text>
<text x="31.80" y="258.10" font-size="12" text-anchor="end" fill="#222" font-weight="normal" font-style="normal"  stroke="#222" stroke-width="0.13">5</text>
<text x="31.80" y="237.00" font-size="12" text-anchor="end" fill="#222" font-weight="normal" font-style="normal"  stroke="#222" stroke-width="0.13">6</text>
<line x1="35.60" y1="360.00" x2="35.60" y2="356.00" stroke="#444" stroke-width="1" />
<line x1="47.60" y1="360.00" x2="47.60" y2="357.60" stroke="#444" stroke-width="1" />
<line x1="59.60" y1="360.00" x2="59.60" y2="356.00" stroke="#444" stroke-width="1" />
<line x1="71.60" y1="360.00" x2="71.60" y2="357.60" stroke="#444" stroke-width="1" />
<line x1="83.60" y1="360.00" x2="83.60" y2="356.00" stroke="#444" stroke-width="1" />
<line x1="95.60" y1="360.00" x2="95.60" y2="357.60" stroke="#444" stroke-width="1" />
<line x1="107.60" y1="360.00" x2="107.60" y2="356.00" stroke="#444" stroke-width="1" />
<line x1="119.60" y1="360.00" x2="119.60" y2="357.60" stroke="#444" stroke-width="1" />
<line x1="131.60" y1="360.00" x2="131.60" y2="356.00" stroke="#444" stroke-width="1" />
<line x1="143.60" y1="360.00" x2="143.60" y2="357.60" stroke="#444" stroke-width="1" />
<line x1="155.60" y1="360.00" x2="155.60" y2="356.00" stroke="#444" stroke-width="1" />
<line x1="167.60" y1="360.00" x2="167.60" y2="357.60" stroke="#444" stroke-width="1" />
<line x1="179.60" y1="360.00" x2="179.60" y2="356.00" stroke="#444" stroke-width="1" />
<text x="35.60" y="373.40" font-size="11.8" text-anchor="middle" fill="#222" font-weight="normal" font-style="normal"  stroke="#222" stroke-width="0.13">-30</text>
<text x="59.60" y="373.40" font-size="11.8" text-anchor="middle" fill="#222" font-weight="normal" font-style="normal"  stroke="#222" stroke-width="0.13">-20</text>
<text x="83.60" y="373.40" font-size="11.8" text-anchor="middle" fill="#222" font-weight="normal" font-style="normal"  stroke="#222" stroke-width="0.13">-10</text>
<text x="107.60" y="373.40" font-size="11.8" text-anchor="middle" fill="#222" font-weight="normal" font-style="normal"  stroke="#222" stroke-width="0.13">0</text>
<text x="131.60" y="373.40" font-size="11.8" text-anchor="middle" fill="#222" font-weight="normal" font-style="normal"  stroke="#222" stroke-width="0.13">10</text>
<text x="155.60" y="373.40" font-size="11.8" text-anchor="middle" fill="#222" font-weight="normal" font-style="normal"  stroke="#222" stroke-width="0.13">20</text>
<text x="179.60" y="373.40" font-size="11.8" text-anchor="middle" fill="#222" font-weight="normal" font-style="normal"  stroke="#222" stroke-width="0.13">30</text>
<text x="108" y="390.2" font-size="12.2" text-anchor="middle" fill="#222" stroke="#222" stroke-width="0.13">log<tspan font-size="8.6" dy="2.6">2</tspan><tspan dy="-2.6">FC</tspan></text>
<text x="0" y="0" font-size="12" text-anchor="middle" fill="#222" transform="translate(16.5,297) rotate(-90)" stroke="#222" stroke-width="0.13">-log<tspan font-size="8.5" dy="2.6">10</tspan><tspan dy="-2.6"> P</tspan></text>
<g fill="rgba(200,200,200,0.22)" stroke="rgba(80,80,80,0.62)" stroke-width="0.65"><circle cx="101.98" cy="326.25" r="2.3"/><circle cx="98.06" cy="325.56" r="2.3"/><circle cx="88.34" cy="331.95" r="2.3"/><circle cx="106.11" cy="322.85" r="2.3"/><circle cx="101.41" cy="329.85" r="2.3"/><circle cx="70.39" cy="328.10" r="2.3"/><circle cx="78.62" cy="328.05" r="2.3"/><circle cx="87.77" cy="331.14" r="2.3"/><circle cx="87.95" cy="324.33" r="2.3"/><circle cx="92.54" cy="323.97" r="2.3"/><circle cx="86.35" cy="331.96" r="2.3"/><circle cx="82.39" cy="326.96" r="2.3"/><circle cx="100.21" cy="332.21" r="2.3"/><circle cx="77.17" cy="328.08" r="2.3"/><circle cx="84.22" cy="324.23" r="2.3"/><circle cx="84.43" cy="323.82" r="2.3"/><circle cx="97.22" cy="323.28" r="2.3"/><circle cx="95.49" cy="321.71" r="2.3"/><circle cx="76.50" cy="331.64" r="2.3"/><circle cx="104.36" cy="330.05" r="2.3"/><circle cx="72.01" cy="328.43" r="2.3"/><circle cx="88.30" cy="329.71" r="2.3"/><circle cx="93.15" cy="328.09" r="2.3"/><circle cx="98.68" cy="325.78" r="2.3"/><circle cx="90.08" cy="322.08" r="2.3"/><circle cx="85.88" cy="323.75" r="2.3"/><circle cx="77.63" cy="323.16" r="2.3"/><circle cx="86.36" cy="331.02" r="2.3"/><circle cx="77.42" cy="323.41" r="2.3"/><circle cx="75.18" cy="327.17" r="2.3"/><circle cx="84.45" cy="330.57" r="2.3"/><circle cx="78.86" cy="327.12" r="2.3"/><circle cx="100.68" cy="331.83" r="2.3"/><circle cx="77.75" cy="323.17" r="2.3"/><circle cx="105.21" cy="323.28" r="2.3"/><circle cx="96.69" cy="330.82" r="2.3"/><circle cx="100.42" cy="323.65" r="2.3"/><circle cx="76.81" cy="332.15" r="2.3"/><circle cx="88.82" cy="332.05" r="2.3"/><circle cx="84.24" cy="329.43" r="2.3"/><circle cx="76.40" cy="323.26" r="2.3"/><circle cx="93.22" cy="320.98" r="2.3"/><circle cx="99.96" cy="331.68" r="2.3"/><circle cx="89.44" cy="332.21" r="2.3"/><circle cx="103.00" cy="327.84" r="2.3"/><circle cx="88.99" cy="330.76" r="2.3"/><circle cx="105.85" cy="322.50" r="2.3"/><circle cx="99.83" cy="321.44" r="2.3"/><circle cx="75.59" cy="328.98" r="2.3"/><circle cx="94.91" cy="326.53" r="2.3"/><circle cx="87.56" cy="326.91" r="2.3"/><circle cx="91.10" cy="325.37" r="2.3"/><circle cx="73.32" cy="327.76" r="2.3"/><circle cx="95.97" cy="324.21" r="2.3"/><circle cx="101.99" cy="329.08" r="2.3"/><circle cx="71.35" cy="327.62" r="2.3"/><circle cx="91.54" cy="332.44" r="2.3"/><circle cx="96.53" cy="325.84" r="2.3"/><circle cx="106.06" cy="325.42" r="2.3"/><circle cx="88.06" cy="332.00" r="2.3"/><circle cx="88.27" cy="328.14" r="2.3"/><circle cx="86.01" cy="329.22" r="2.3"/><circle cx="84.76" cy="325.56" r="2.3"/><circle cx="106.04" cy="331.87" r="2.3"/><circle cx="86.15" cy="323.42" r="2.3"/><circle cx="101.63" cy="327.27" r="2.3"/><circle cx="89.73" cy="328.86" r="2.3"/><circle cx="98.26" cy="328.94" r="2.3"/><circle cx="98.09" cy="325.66" r="2.3"/><circle cx="100.23" cy="328.19" r="2.3"/><circle cx="81.73" cy="332.31" r="2.3"/><circle cx="90.70" cy="324.04" r="2.3"/><circle cx="99.95" cy="329.99" r="2.3"/><circle cx="80.22" cy="330.30" r="2.3"/><circle cx="103.24" cy="327.52" r="2.3"/><circle cx="85.16" cy="331.60" r="2.3"/><circle cx="99.58" cy="328.70" r="2.3"/><circle cx="78.76" cy="328.41" r="2.3"/><circle cx="77.67" cy="330.96" r="2.3"/><circle cx="99.13" cy="325.02" r="2.3"/><circle cx="76.19" cy="328.29" r="2.3"/><circle cx="102.32" cy="331.17" r="2.3"/><circle cx="92.28" cy="330.36" r="2.3"/><circle cx="80.07" cy="324.61" r="2.3"/><circle cx="103.33" cy="329.34" r="2.3"/><circle cx="80.05" cy="326.47" r="2.3"/><circle cx="80.10" cy="329.29" r="2.3"/><circle cx="104.48" cy="329.18" r="2.3"/><circle cx="80.70" cy="330.00" r="2.3"/><circle cx="98.82" cy="327.73" r="2.3"/><circle cx="96.37" cy="327.82" r="2.3"/><circle cx="74.36" cy="331.09" r="2.3"/><circle cx="106.15" cy="321.62" r="2.3"/><circle cx="76.44" cy="323.20" r="2.3"/><circle cx="95.85" cy="321.54" r="2.3"/><circle cx="101.33" cy="328.71" r="2.3"/><circle cx="102.47" cy="304.31" r="2.3"/><circle cx="102.98" cy="318.76" r="2.3"/><circle cx="105.32" cy="325.21" r="2.3"/><circle cx="105.70" cy="331.91" r="2.3"/><circle cx="103.45" cy="326.89" r="2.3"/><circle cx="102.06" cy="332.22" r="2.3"/><circle cx="101.48" cy="311.24" r="2.3"/><circle cx="101.36" cy="301.22" r="2.3"/><circle cx="101.51" cy="316.39" r="2.3"/><circle cx="107.04" cy="308.81" r="2.3"/><circle cx="106.05" cy="326.51" r="2.3"/><circle cx="102.98" cy="318.53" r="2.3"/><circle cx="104.54" cy="298.97" r="2.3"/><circle cx="103.30" cy="325.21" r="2.3"/><circle cx="105.54" cy="303.04" r="2.3"/><circle cx="104.14" cy="307.02" r="2.3"/><circle cx="104.92" cy="329.33" r="2.3"/><circle cx="103.78" cy="305.31" r="2.3"/><circle cx="106.05" cy="306.56" r="2.3"/><circle cx="101.37" cy="305.85" r="2.3"/><circle cx="101.98" cy="332.55" r="2.3"/><circle cx="103.20" cy="302.99" r="2.3"/><circle cx="106.81" cy="327.35" r="2.3"/><circle cx="105.44" cy="318.43" r="2.3"/><circle cx="104.48" cy="320.56" r="2.3"/><circle cx="102.27" cy="332.57" r="2.3"/><circle cx="106.78" cy="330.90" r="2.3"/><circle cx="106.34" cy="331.91" r="2.3"/><circle cx="101.04" cy="303.41" r="2.3"/><circle cx="106.58" cy="319.43" r="2.3"/><circle cx="105.15" cy="326.05" r="2.3"/><circle cx="104.93" cy="313.36" r="2.3"/><circle cx="103.46" cy="324.57" r="2.3"/><circle cx="105.93" cy="325.61" r="2.3"/><circle cx="106.35" cy="317.28" r="2.3"/><circle cx="102.65" cy="323.91" r="2.3"/><circle cx="106.62" cy="329.78" r="2.3"/><circle cx="104.79" cy="315.22" r="2.3"/><circle cx="102.24" cy="323.91" r="2.3"/><circle cx="102.12" cy="314.42" r="2.3"/><circle cx="104.43" cy="324.18" r="2.3"/><circle cx="104.02" cy="310.81" r="2.3"/><circle cx="104.50" cy="311.22" r="2.3"/><circle cx="104.24" cy="328.09" r="2.3"/><circle cx="103.78" cy="311.17" r="2.3"/><circle cx="106.67" cy="322.34" r="2.3"/><circle cx="104.46" cy="302.11" r="2.3"/><circle cx="101.28" cy="324.12" r="2.3"/><circle cx="101.52" cy="306.60" r="2.3"/><circle cx="105.48" cy="320.89" r="2.3"/><circle cx="106.35" cy="305.49" r="2.3"/><circle cx="102.99" cy="301.71" r="2.3"/><circle cx="102.17" cy="312.43" r="2.3"/><circle cx="102.54" cy="316.94" r="2.3"/><circle cx="106.48" cy="315.93" r="2.3"/><circle cx="107.09" cy="330.56" r="2.3"/><circle cx="102.29" cy="332.23" r="2.3"/><circle cx="106.55" cy="331.41" r="2.3"/><circle cx="101.63" cy="329.77" r="2.3"/><circle cx="108.96" cy="312.08" r="2.3"/><circle cx="109.64" cy="311.99" r="2.3"/><circle cx="113.49" cy="312.27" r="2.3"/><circle cx="115.43" cy="320.86" r="2.3"/><circle cx="114.36" cy="333.36" r="2.3"/><circle cx="114.14" cy="322.90" r="2.3"/><circle cx="113.78" cy="332.43" r="2.3"/><circle cx="114.01" cy="308.67" r="2.3"/><circle cx="109.23" cy="327.96" r="2.3"/><circle cx="112.73" cy="312.56" r="2.3"/><circle cx="110.49" cy="331.14" r="2.3"/><circle cx="110.54" cy="319.71" r="2.3"/><circle cx="114.04" cy="326.19" r="2.3"/><circle cx="111.36" cy="326.11" r="2.3"/><circle cx="111.24" cy="325.53" r="2.3"/><circle cx="109.38" cy="323.22" r="2.3"/><circle cx="115.57" cy="325.68" r="2.3"/><circle cx="114.00" cy="331.50" r="2.3"/><circle cx="113.61" cy="315.08" r="2.3"/><circle cx="113.49" cy="322.73" r="2.3"/><circle cx="112.17" cy="318.84" r="2.3"/><circle cx="115.05" cy="331.71" r="2.3"/><circle cx="109.47" cy="315.35" r="2.3"/><circle cx="115.18" cy="322.73" r="2.3"/><circle cx="111.88" cy="316.34" r="2.3"/><circle cx="110.10" cy="329.30" r="2.3"/><circle cx="110.19" cy="320.66" r="2.3"/><circle cx="110.99" cy="330.07" r="2.3"/><circle cx="113.61" cy="307.97" r="2.3"/><circle cx="110.86" cy="316.80" r="2.3"/><circle cx="111.68" cy="311.65" r="2.3"/><circle cx="112.87" cy="329.30" r="2.3"/><circle cx="110.31" cy="333.48" r="2.3"/><circle cx="112.14" cy="326.47" r="2.3"/><circle cx="110.00" cy="327.05" r="2.3"/><circle cx="111.04" cy="314.45" r="2.3"/><circle cx="109.80" cy="306.53" r="2.3"/><circle cx="112.14" cy="320.24" r="2.3"/><circle cx="112.06" cy="312.33" r="2.3"/><circle cx="114.52" cy="321.53" r="2.3"/><circle cx="112.15" cy="316.28" r="2.3"/><circle cx="114.76" cy="326.01" r="2.3"/><circle cx="113.91" cy="307.71" r="2.3"/><circle cx="112.05" cy="330.13" r="2.3"/><circle cx="110.43" cy="316.39" r="2.3"/><circle cx="113.50" cy="307.77" r="2.3"/><circle cx="114.74" cy="329.86" r="2.3"/><circle cx="110.12" cy="329.49" r="2.3"/><circle cx="110.10" cy="316.82" r="2.3"/><circle cx="114.78" cy="309.97" r="2.3"/><circle cx="110.57" cy="311.23" r="2.3"/><circle cx="110.98" cy="325.39" r="2.3"/><circle cx="113.87" cy="332.74" r="2.3"/><circle cx="109.44" cy="312.35" r="2.3"/><circle cx="110.83" cy="327.15" r="2.3"/><circle cx="112.84" cy="317.79" r="2.3"/><circle cx="108.85" cy="327.70" r="2.3"/><circle cx="111.84" cy="323.64" r="2.3"/><circle cx="110.26" cy="320.67" r="2.3"/><circle cx="115.45" cy="326.26" r="2.3"/><circle cx="113.12" cy="256.19" r="2.3"/><circle cx="104.48" cy="275.60" r="2.3"/><circle cx="111.68" cy="279.82" r="2.3"/><circle cx="113.36" cy="284.04" r="2.3"/><circle cx="115.52" cy="306.19" r="2.3"/><circle cx="116.00" cy="297.75" r="2.3"/><circle cx="102.80" cy="293.53" r="2.3"/><circle cx="68.00" cy="325.19" r="2.3"/><circle cx="64.40" cy="325.82" r="2.3"/><circle cx="59.60" cy="325.82" r="2.3"/><circle cx="47.60" cy="324.55" r="2.3"/><circle cx="78.80" cy="319.91" r="2.3"/><circle cx="110.96" cy="289.31" r="2.3"/><circle cx="112.88" cy="294.59" r="2.3"/><circle cx="99.92" cy="310.41" r="2.3"/><circle cx="109.52" cy="298.81" r="2.3"/><circle cx="112.16" cy="300.92" r="2.3"/></g>
<line x1="105.20" y1="249.00" x2="105.20" y2="360.00" stroke="#111" stroke-width="1.3" stroke-dasharray="1.3 2.2"/>
<line x1="110.00" y1="249.00" x2="110.00" y2="360.00" stroke="#111" stroke-width="1.3" stroke-dasharray="1.3 2.2"/>
<line x1="36.00" y1="332.20" x2="179.00" y2="332.20" stroke="#111" stroke-width="1.3" stroke-dasharray="1.3 2.2"/>
<line x1="100.00" y1="283.00" x2="105.60" y2="285.00" stroke="#222" stroke-width="0.8" />
<circle cx="105.60" cy="285.00" r="2.20" fill="#13788c" stroke="#222" stroke-width="0.6" />
<line x1="117.00" y1="288.80" x2="120.50" y2="289.50" stroke="#222" stroke-width="0.8" />
<circle cx="114.40" cy="288.00" r="2.30" fill="#b070c8" stroke="#333" stroke-width="0.6" />
<line x1="89.00" y1="315.00" x2="104.50" y2="324.50" stroke="#222" stroke-width="0.9" />
<circle cx="105.40" cy="325.40" r="2.20" fill="#1a91aa" stroke="#222" stroke-width="0.6" />
<line x1="98.00" y1="338.50" x2="105.00" y2="331.50" stroke="#222" stroke-width="0.9" />
<circle cx="106.00" cy="330.00" r="2.20" fill="#1a91aa" stroke="#222" stroke-width="0.6" />
<line x1="117.00" y1="320.00" x2="120.50" y2="322.50" stroke="#222" stroke-width="0.8" />
<circle cx="114.40" cy="317.60" r="2.30" fill="#b070c8" stroke="#333" stroke-width="0.6" />
<text x="96.00" y="285.20" font-size="10.3" text-anchor="end" fill="#222" font-weight="normal" font-style="normal"  stroke="#222" stroke-width="0.13">Cholesterol</text>
<text x="121.60" y="293.00" font-size="10.3" text-anchor="start" fill="#222" font-weight="normal" font-style="normal"  stroke="#222" stroke-width="0.13">24-HC</text>
<text x="88.30" y="316.00" font-size="10.3" text-anchor="end" fill="#222" font-weight="normal" font-style="normal"  stroke="#222" stroke-width="0.13">7-DHC</text>
<text x="122.40" y="329.40" font-size="10.3" text-anchor="start" fill="#222" font-weight="normal" font-style="normal"  stroke="#222" stroke-width="0.13">24, 25-DHL</text>
<text x="103.00" y="348.00" font-size="10.3" text-anchor="end" fill="#222" font-weight="normal" font-style="normal"  stroke="#222" stroke-width="0.13">Cortisol</text>
<text x="194.40" y="216.60" font-size="16.5" text-anchor="start" fill="#111" font-weight="bold" font-style="normal" >e</text>
<text x="215.6" y="227.4" font-size="10.55" fill="#222" stroke="#222" stroke-width="0.13">Plasma metabolites: Top-10 KEGG pathways (5xFAD+Cap <tspan font-style="italic">vs</tspan> 5xFAD+Veh)</text>
<line x1="424.00" y1="234.00" x2="424.00" y2="371.00" stroke="#e6e6e6" stroke-width="0.8" />
<line x1="440.52" y1="234.00" x2="440.52" y2="371.00" stroke="#e6e6e6" stroke-width="0.8" />
<line x1="457.04" y1="234.00" x2="457.04" y2="371.00" stroke="#e6e6e6" stroke-width="0.8" />
<line x1="473.56" y1="234.00" x2="473.56" y2="371.00" stroke="#e6e6e6" stroke-width="0.8" />
<line x1="490.08" y1="234.00" x2="490.08" y2="371.00" stroke="#e6e6e6" stroke-width="0.8" />
<line x1="506.60" y1="234.00" x2="506.60" y2="371.00" stroke="#e6e6e6" stroke-width="0.8" />
<line x1="417.00" y1="246.00" x2="514.40" y2="246.00" stroke="#ececec" stroke-width="0.8" />
<line x1="417.00" y1="258.56" x2="514.40" y2="258.56" stroke="#ececec" stroke-width="0.8" />
<line x1="417.00" y1="271.12" x2="514.40" y2="271.12" stroke="#ececec" stroke-width="0.8" />
<line x1="417.00" y1="283.68" x2="514.40" y2="283.68" stroke="#ececec" stroke-width="0.8" />
<line x1="417.00" y1="296.24" x2="514.40" y2="296.24" stroke="#ececec" stroke-width="0.8" />
<line x1="417.00" y1="308.80" x2="514.40" y2="308.80" stroke="#ececec" stroke-width="0.8" />
<line x1="417.00" y1="321.36" x2="514.40" y2="321.36" stroke="#ececec" stroke-width="0.8" />
<line x1="417.00" y1="333.92" x2="514.40" y2="333.92" stroke="#ececec" stroke-width="0.8" />
<line x1="417.00" y1="346.48" x2="514.40" y2="346.48" stroke="#ececec" stroke-width="0.8" />
<line x1="417.00" y1="359.04" x2="514.40" y2="359.04" stroke="#ececec" stroke-width="0.8" />
<line x1="417.00" y1="246.00" x2="506.60" y2="246.00" stroke="#333" stroke-width="0.8" stroke-dasharray="1.6 0.9"/>
<line x1="414.40" y1="246.00" x2="417.00" y2="246.00" stroke="#333" stroke-width="1" />
<text x="414.40" y="249.40" font-size="10.4" text-anchor="end" fill="#1a8ca8" font-weight="normal" font-style="normal"  stroke="#1a8ca8" stroke-width="0.13">Steroid hormone biosynthesis</text>
<line x1="417.00" y1="258.56" x2="490.08" y2="258.56" stroke="#333" stroke-width="0.8" stroke-dasharray="1.6 0.9"/>
<line x1="414.40" y1="258.56" x2="417.00" y2="258.56" stroke="#333" stroke-width="1" />
<text x="414.40" y="261.96" font-size="10.4" text-anchor="end" fill="#222" font-weight="normal" font-style="normal"  stroke="#222" stroke-width="0.13">Bile secretion</text>
<line x1="417.00" y1="271.12" x2="473.56" y2="271.12" stroke="#333" stroke-width="0.8" stroke-dasharray="1.6 0.9"/>
<line x1="414.40" y1="271.12" x2="417.00" y2="271.12" stroke="#333" stroke-width="1" />
<text x="414.40" y="274.52" font-size="10.4" text-anchor="end" fill="#1a8ca8" font-weight="normal" font-style="normal"  stroke="#1a8ca8" stroke-width="0.13">Steroid biosynthesis</text>
<line x1="417.00" y1="283.68" x2="473.56" y2="283.68" stroke="#333" stroke-width="0.8" stroke-dasharray="1.6 0.9"/>
<line x1="414.40" y1="283.68" x2="417.00" y2="283.68" stroke="#333" stroke-width="1" />
<text x="414.40" y="287.08" font-size="10.4" text-anchor="end" fill="#1a8ca8" font-weight="normal" font-style="normal"  stroke="#1a8ca8" stroke-width="0.13">Arachidonic acid metabolism</text>
<line x1="417.00" y1="296.24" x2="473.56" y2="296.24" stroke="#333" stroke-width="0.8" stroke-dasharray="1.6 0.9"/>
<line x1="414.40" y1="296.24" x2="417.00" y2="296.24" stroke="#333" stroke-width="1" />
<text x="414.40" y="299.64" font-size="10.4" text-anchor="end" fill="#222" font-weight="normal" font-style="normal"  stroke="#222" stroke-width="0.13">Neomycin, kanamycin, gentamicin biosynthesis</text>
<line x1="417.00" y1="308.80" x2="457.04" y2="308.80" stroke="#333" stroke-width="0.8" stroke-dasharray="1.6 0.9"/>
<line x1="414.40" y1="308.80" x2="417.00" y2="308.80" stroke="#333" stroke-width="1" />
<text x="414.40" y="312.20" font-size="10.4" text-anchor="end" fill="#1a8ca8" font-weight="normal" font-style="normal"  stroke="#1a8ca8" stroke-width="0.13">Primary bile acid biosynthesis</text>
<line x1="417.00" y1="321.36" x2="440.52" y2="321.36" stroke="#333" stroke-width="0.8" stroke-dasharray="1.6 0.9"/>
<line x1="414.40" y1="321.36" x2="417.00" y2="321.36" stroke="#333" stroke-width="1" />
<text x="414.40" y="324.76" font-size="10.4" text-anchor="end" fill="#1a8ca8" font-weight="normal" font-style="normal"  stroke="#1a8ca8" stroke-width="0.13">Biosynthesis of unsaturated fatty acids</text>
<line x1="417.00" y1="333.92" x2="440.52" y2="333.92" stroke="#333" stroke-width="0.8" stroke-dasharray="1.6 0.9"/>
<line x1="414.40" y1="333.92" x2="417.00" y2="333.92" stroke="#333" stroke-width="1" />
<text x="414.40" y="337.32" font-size="10.4" text-anchor="end" fill="#222" font-weight="normal" font-style="normal"  stroke="#222" stroke-width="0.13">ABC transporters</text>
<line x1="417.00" y1="346.48" x2="424.00" y2="346.48" stroke="#333" stroke-width="0.8" stroke-dasharray="1.6 0.9"/>
<line x1="414.40" y1="346.48" x2="417.00" y2="346.48" stroke="#333" stroke-width="1" />
<text x="414.40" y="349.88" font-size="10.4" text-anchor="end" fill="#1a8ca8" font-weight="normal" font-style="normal"  stroke="#1a8ca8" stroke-width="0.13">Linoleic acid metabolism</text>
<line x1="417.00" y1="359.04" x2="424.00" y2="359.04" stroke="#333" stroke-width="0.8" stroke-dasharray="1.6 0.9"/>
<line x1="414.40" y1="359.04" x2="417.00" y2="359.04" stroke="#333" stroke-width="1" />
<text x="414.40" y="362.44" font-size="10.4" text-anchor="end" fill="#222" font-weight="normal" font-style="normal"  stroke="#222" stroke-width="0.13">Tryptophan metabolism</text>
<circle cx="506.60" cy="246.00" r="6.40" fill="#f3e6f3" stroke="#222" stroke-width="0.9" />
<circle cx="490.08" cy="258.56" r="6.00" fill="#ead7ea" stroke="#222" stroke-width="0.9" />
<circle cx="473.56" cy="271.12" r="5.30" fill="#7a1a8c" stroke="#222" stroke-width="0.9" />
<circle cx="473.56" cy="283.68" r="5.30" fill="#9a3aaa" stroke="#222" stroke-width="0.9" />
<circle cx="473.56" cy="296.24" r="5.30" fill="#dcc2e2" stroke="#222" stroke-width="0.9" />
<circle cx="457.04" cy="308.80" r="4.80" fill="#8e2e9e" stroke="#222" stroke-width="0.9" />
<circle cx="440.52" cy="321.36" r="3.60" fill="#eedaef" stroke="#222" stroke-width="0.9" />
<circle cx="440.52" cy="333.92" r="3.60" fill="#e4eeee" stroke="#222" stroke-width="0.9" />
<circle cx="424.00" cy="346.48" r="2.10" fill="#6a1a82" stroke="#222" stroke-width="0.9" />
<circle cx="424.00" cy="359.04" r="2.10" fill="#3f8484" stroke="#222" stroke-width="0.9" />
<line x1="417.00" y1="234.00" x2="417.00" y2="371.00" stroke="#333" stroke-width="1" />
<line x1="417.00" y1="371.00" x2="514.40" y2="371.00" stroke="#333" stroke-width="1" />
<line x1="424.00" y1="371.00" x2="424.00" y2="373.60" stroke="#333" stroke-width="1" />
<text x="0" y="0" font-size="11" text-anchor="end" fill="#222" transform="translate(427.60,379.40) rotate(-45)" stroke="#222" stroke-width="0.13">8</text>
<line x1="440.52" y1="371.00" x2="440.52" y2="373.60" stroke="#333" stroke-width="1" />
<text x="0" y="0" font-size="11" text-anchor="end" fill="#222" transform="translate(444.12,379.40) rotate(-45)" stroke="#222" stroke-width="0.13">9</text>
<line x1="457.04" y1="371.00" x2="457.04" y2="373.60" stroke="#333" stroke-width="1" />
<text x="0" y="0" font-size="11" text-anchor="end" fill="#222" transform="translate(460.64,379.40) rotate(-45)" stroke="#222" stroke-width="0.13">10</text>
<line x1="473.56" y1="371.00" x2="473.56" y2="373.60" stroke="#333" stroke-width="1" />
<text x="0" y="0" font-size="11" text-anchor="end" fill="#222" transform="translate(477.16,379.40) rotate(-45)" stroke="#222" stroke-width="0.13">11</text>
<line x1="490.08" y1="371.00" x2="490.08" y2="373.60" stroke="#333" stroke-width="1" />
<text x="0" y="0" font-size="11" text-anchor="end" fill="#222" transform="translate(493.68,379.40) rotate(-45)" stroke="#222" stroke-width="0.13">12</text>
<line x1="506.60" y1="371.00" x2="506.60" y2="373.60" stroke="#333" stroke-width="1" />
<text x="0" y="0" font-size="11" text-anchor="end" fill="#222" transform="translate(510.20,379.40) rotate(-45)" stroke="#222" stroke-width="0.13">13</text>
<text x="397.80" y="399.00" font-size="10.43" text-anchor="start" fill="#222" font-weight="normal" font-style="normal"  stroke="#222" stroke-width="0.13">Number of differential metabolites</text>
<path d="M233.20,238.20 C228.20,239.96 228.20,246.24 233.20,248.00" fill="none" stroke="#1a91aa" stroke-width="2.0" stroke-linecap="round"/>
<path d="M232.60,262.00 C227.60,266.14 227.60,280.86 232.60,285.00" fill="none" stroke="#1a91aa" stroke-width="2.0" stroke-linecap="round"/>
<path d="M232.60,301.00 C227.60,305.32 227.60,320.68 232.60,325.00" fill="none" stroke="#1a91aa" stroke-width="2.0" stroke-linecap="round"/>
<path d="M233.20,337.20 C228.20,338.96 228.20,345.24 233.20,347.00" fill="none" stroke="#1a91aa" stroke-width="2.0" stroke-linecap="round"/>
<line x1="231.40" y1="366.00" x2="231.40" y2="356.50" stroke="#1a91aa" stroke-width="1.8" />
<path d="M227.4,360.0 L231.4,354.4 L235.4,360.0" fill="none" stroke="#1a91aa" stroke-width="1.8" />
<text x="213.00" y="381.00" font-size="10.4" text-anchor="start" fill="#1a8ca8" font-weight="normal" font-style="normal"  stroke="#1a8ca8" stroke-width="0.13">Lipid metabolism-associated pathways</text>
<text x="519.00" y="268.00" font-size="10.4" text-anchor="start" fill="#222" font-weight="normal" font-style="normal"  stroke="#222" stroke-width="0.13">DA score</text>
<defs><linearGradient id="dag" x1="0" x2="0" y1="0" y2="1"><stop offset="0" stop-color="#6a0a8a"/><stop offset="0.35" stop-color="#c890d0"/><stop offset="0.62" stop-color="#ffffff"/><stop offset="1" stop-color="#3a8282"/></linearGradient></defs>
<rect x="519.60" y="274.00" width="8.00" height="42.00" fill="url(#dag)" stroke="none" stroke-width="1" />
<line x1="518.00" y1="278.60" x2="521.40" y2="278.60" stroke="#111" stroke-width="0.9" />
<line x1="525.80" y1="278.60" x2="529.20" y2="278.60" stroke="#111" stroke-width="0.9" />
<line x1="518.00" y1="285.90" x2="521.40" y2="285.90" stroke="#777" stroke-width="0.9" />
<line x1="525.80" y1="285.90" x2="529.20" y2="285.90" stroke="#777" stroke-width="0.9" />
<line x1="518.00" y1="293.30" x2="521.40" y2="293.30" stroke="#111" stroke-width="0.9" />
<line x1="525.80" y1="293.30" x2="529.20" y2="293.30" stroke="#111" stroke-width="0.9" />
<line x1="518.00" y1="301.00" x2="521.40" y2="301.00" stroke="#888" stroke-width="0.9" />
<line x1="525.80" y1="301.00" x2="529.20" y2="301.00" stroke="#888" stroke-width="0.9" />
<line x1="518.00" y1="308.20" x2="521.40" y2="308.20" stroke="#111" stroke-width="0.9" />
<line x1="525.80" y1="308.20" x2="529.20" y2="308.20" stroke="#111" stroke-width="0.9" />
<text x="536.00" y="282.00" font-size="10.4" text-anchor="start" fill="#222" font-weight="normal" font-style="normal"  stroke="#222" stroke-width="0.13">0.3</text>
<text x="536.00" y="305.00" font-size="10.4" text-anchor="start" fill="#222" font-weight="normal" font-style="normal"  stroke="#222" stroke-width="0.13">0</text>
<text x="532.40" y="318.00" font-size="10.4" text-anchor="start" fill="#222" font-weight="normal" font-style="normal"  stroke="#222" stroke-width="0.13">-0.2</text>
<text x="519.00" y="338.00" font-size="10.4" text-anchor="start" fill="#222" font-weight="normal" font-style="normal"  stroke="#222" stroke-width="0.13">Pathway size</text>
<circle cx="524.60" cy="343.60" r="2.50" fill="#fff" stroke="#222" stroke-width="1" />
<text x="536.40" y="347.00" font-size="10.4" text-anchor="start" fill="#222" font-weight="normal" font-style="normal"  stroke="#222" stroke-width="0.13">8</text>
<circle cx="525.00" cy="360.00" r="6.50" fill="#fff" stroke="#222" stroke-width="1" />
<text x="534.00" y="364.00" font-size="10.4" text-anchor="start" fill="#222" font-weight="normal" font-style="normal"  stroke="#222" stroke-width="0.13">13</text>
<text x="587.00" y="223.00" font-size="16.5" text-anchor="start" fill="#111" font-weight="bold" font-style="normal" >f</text>
<rect x="599.60" y="234.40" width="58.00" height="16.20" rx="8.10" fill="#fff" stroke="#222" stroke-width="0.9"/>
<text x="628.60" y="246.20" font-size="10.4" text-anchor="middle" fill="#222" font-weight="normal" font-style="normal"  stroke="#222" stroke-width="0.13">24,25-DHL</text>
<rect x="606.00" y="265.40" width="44.00" height="16.00" rx="8.00" fill="#fff" stroke="#222" stroke-width="0.9"/>
<text x="628.00" y="277.10" font-size="10.4" text-anchor="middle" fill="#222" font-weight="normal" font-style="normal"  stroke="#222" stroke-width="0.13">7-DHC</text>
<rect x="599.00" y="297.00" width="59.00" height="15.60" rx="7.80" fill="#fff" stroke="#222" stroke-width="0.9"/>
<text x="628.50" y="308.50" font-size="10.4" text-anchor="middle" fill="#222" font-weight="normal" font-style="normal"  stroke="#222" stroke-width="0.13">Cholesterol</text>
<rect x="635.00" y="343.00" width="38.00" height="16.00" rx="8.00" fill="#7ab8c6" stroke="#222" stroke-width="0.9"/>
<text x="654.00" y="354.70" font-size="10.4" text-anchor="middle" fill="#222" font-weight="normal" font-style="normal"  stroke="#222" stroke-width="0.13">24-HC</text>
<rect x="590.40" y="372.40" width="47.20" height="16.00" rx="8.00" fill="#fff" stroke="#222" stroke-width="0.9"/>
<text x="614.00" y="384.10" font-size="10.4" text-anchor="middle" fill="#222" font-weight="normal" font-style="normal"  stroke="#222" stroke-width="0.13">Cortisol</text>
<line x1="628.40" y1="252.00" x2="628.40" y2="261.00" stroke="#111" stroke-width="1.1" stroke-dasharray="1.2 1.2"/>
<path d="M625.2,258.5 L628.4,263.6 L631.6,258.5" fill="none" stroke="#111" stroke-width="1.2" />
<line x1="628.40" y1="283.00" x2="628.40" y2="292.50" stroke="#111" stroke-width="1.3" />
<path d="M625.2,289.2 L628.4,294.6 L631.6,289.2" fill="none" stroke="#111" stroke-width="1.3" />
<line x1="626.60" y1="317.00" x2="612.00" y2="366.00" stroke="#111" stroke-width="1.1" stroke-dasharray="1.2 1.2"/>
<path d="M609.0,361.5 L611.4,368.4 L615.8,362.6" fill="none" stroke="#111" stroke-width="1.2" />
<line x1="631.60" y1="316.40" x2="649.40" y2="340.00" stroke="#111" stroke-width="1.4" />
<path d="M643.4,337.8 L650.2,341.2 L649.2,333.8" fill="none" stroke="#111" stroke-width="1.4" />
<text x="-0.60" y="431.00" font-size="16.5" text-anchor="start" fill="#111" font-weight="bold" font-style="normal" >g</text>
<text x="31.00" y="453.20" font-size="10.4" text-anchor="start" fill="#222" font-weight="normal" font-style="normal"  stroke="#222" stroke-width="0.13">Gut microbe</text>
<line x1="95.00" y1="449.60" x2="109.00" y2="449.60" stroke="#111" stroke-width="1.4" />
<path d="M106.6,445.8 L113.6,449.6 L106.6,453.4 L108.2,449.6 Z" fill="#111" stroke="none" stroke-width="1" />
<text x="118.00" y="453.20" font-size="10.4" text-anchor="start" fill="#222" font-weight="normal" font-style="normal"  stroke="#222" stroke-width="0.13">24-HC</text>
<line x1="156.00" y1="449.60" x2="185.00" y2="449.60" stroke="#111" stroke-width="1.4" />
<path d="M159.2,445.8 L152.2,449.6 L159.2,453.4 L157.6,449.6 Z" fill="#111" stroke="none" stroke-width="1" />
<text x="189.00" y="453.20" font-size="10.4" text-anchor="start" fill="#222" font-weight="normal" font-style="normal"  stroke="#222" stroke-width="0.13">Metagenomics</text>
<text x="301.00" y="453.20" font-size="10.4" text-anchor="end" fill="#222" font-weight="normal" font-style="normal"  stroke="#222" stroke-width="0.13">(KEGG)</text>
<rect x="7.00" y="461.80" width="29.00" height="15.20" fill="#efefef" stroke="none" stroke-width="1" />
<rect x="7.00" y="478.80" width="29.00" height="5.80" fill="#efefef" stroke="none" stroke-width="1" />
<rect x="7.00" y="485.80" width="29.00" height="6.80" fill="#efefef" stroke="none" stroke-width="1" />
<rect x="7.00" y="493.40" width="29.00" height="44.20" fill="#efefef" stroke="none" stroke-width="1" />
<rect x="7.00" y="538.40" width="29.00" height="20.20" fill="#efefef" stroke="none" stroke-width="1" />
<rect x="7.00" y="559.80" width="29.00" height="6.80" fill="#efefef" stroke="none" stroke-width="1" />
<rect x="7.00" y="567.40" width="29.00" height="11.80" fill="#efefef" stroke="none" stroke-width="1" />
<rect x="7.00" y="579.80" width="29.00" height="57.80" fill="#efefef" stroke="none" stroke-width="1" />
<rect x="7.00" y="638.40" width="29.00" height="7.20" fill="#efefef" stroke="none" stroke-width="1" />
<rect x="7.00" y="646.40" width="29.00" height="20.20" fill="#efefef" stroke="none" stroke-width="1" />
<rect x="7.00" y="668.40" width="29.00" height="25.20" fill="#efefef" stroke="none" stroke-width="1" />
<path d="M44.0,462.4 C86.3,462.4 86.3,461.1 128.6,461.1 L128.6,476.4 C86.3,476.4 86.3,476.4 44.0,476.4 Z" fill="#e3f0e8" stroke="none" stroke-width="1" fill-opacity="0.9"/>
<path d="M44.0,479.4 C86.3,479.4 86.3,489 128.6,489 L128.6,494 C86.3,494 86.3,484 44.0,484 Z" fill="#b4c8de" stroke="none" stroke-width="1" fill-opacity="0.9"/>
<path d="M44.0,486.4 C86.3,486.4 86.3,495 128.6,495 L128.6,502 C86.3,502 86.3,492 44.0,492 Z" fill="#c9e3ea" stroke="none" stroke-width="1" fill-opacity="0.9"/>
<path d="M44.0,494 C86.3,494 86.3,503.7 128.6,503.7 L128.6,547 C86.3,547 86.3,537 44.0,537 Z" fill="#ddf0ef" stroke="none" stroke-width="1" fill-opacity="0.9"/>
<path d="M44.0,539 C86.3,539 86.3,548.7 128.6,548.7 L128.6,568 C86.3,568 86.3,558 44.0,558 Z" fill="#c4d6e8" stroke="none" stroke-width="1" fill-opacity="0.9"/>
<path d="M44.0,560.4 C86.3,560.4 86.3,569.7 128.6,569.7 L128.6,575.8 C86.3,575.8 86.3,566 44.0,566 Z" fill="#c6b2d4" stroke="none" stroke-width="1" fill-opacity="0.9"/>
<path d="M44.0,568 C86.3,568 86.3,577 128.6,577 L128.6,588 C86.3,588 86.3,578.6 44.0,578.6 Z" fill="#f1f6ec" stroke="none" stroke-width="1" fill-opacity="0.9"/>
<path d="M44.0,580.4 C86.3,580.4 86.3,589.6 128.6,589.6 L128.6,648 C86.3,648 86.3,637 44.0,637 Z" fill="#c9e1ee" stroke="none" stroke-width="1" fill-opacity="0.9"/>
<path d="M44.0,639 C86.3,639 86.3,649 128.6,649 L128.6,654 C86.3,654 86.3,645 44.0,645 Z" fill="#bccde0" stroke="none" stroke-width="1" fill-opacity="0.9"/>
<path d="M44.0,647 C86.3,647 86.3,656.4 128.6,656.4 L128.6,676 C86.3,676 86.3,666 44.0,666 Z" fill="#d3bfe2" stroke="none" stroke-width="1" fill-opacity="0.9"/>
<path d="M44.0,669 C86.3,669 86.3,678 128.6,678 L128.6,702 C86.3,702 86.3,693 44.0,693 Z" fill="#e4c6e4" stroke="none" stroke-width="1" fill-opacity="0.9"/>
<rect x="38.20" y="462.40" width="5.80" height="14.00" fill="#a9dcc1" stroke="none" stroke-width="1" />
<text x="35.20" y="471.60" font-size="10.4" text-anchor="end" fill="#222" font-weight="normal" font-style="normal"  stroke="#222" stroke-width="0.13">-0.89</text>
<text x="46.60" y="472.00" font-size="9.0" text-anchor="start" fill="#3a3a3a" font-weight="normal" font-style="italic"  stroke="#3a3a3a" stroke-width="0.13">Bacteroides</text>
<rect x="38.20" y="479.40" width="5.80" height="4.60" fill="#3b7cb8" stroke="none" stroke-width="1" />
<text x="35.20" y="483.00" font-size="10.4" text-anchor="end" fill="#222" font-weight="normal" font-style="normal"  stroke="#222" stroke-width="0.13">-0.87</text>
<text x="46.60" y="484.00" font-size="9.0" text-anchor="start" fill="#3a3a3a" font-weight="normal" font-style="italic"  stroke="#3a3a3a" stroke-width="0.13">Brenneria</text>
<rect x="38.20" y="486.40" width="5.80" height="5.60" fill="#5bb8d2" stroke="none" stroke-width="1" />
<text x="35.20" y="492.40" font-size="10.4" text-anchor="end" fill="#222" font-weight="normal" font-style="normal"  stroke="#222" stroke-width="0.13">0.86</text>
<text x="46.60" y="492.00" font-size="9.0" text-anchor="start" fill="#3a3a3a" font-weight="normal" font-style="italic"  stroke="#3a3a3a" stroke-width="0.13">Enterovibrio</text>
<rect x="38.20" y="494.00" width="5.80" height="43.00" fill="#8dd0cd" stroke="none" stroke-width="1" />
<text x="35.20" y="518.00" font-size="10.4" text-anchor="end" fill="#222" font-weight="normal" font-style="normal"  stroke="#222" stroke-width="0.13">0.89</text>
<text x="46.60" y="518.00" font-size="9.0" text-anchor="start" fill="#3a3a3a" font-weight="normal" font-style="italic"  stroke="#3a3a3a" stroke-width="0.13">Oscillibacter</text>
<rect x="38.20" y="539.00" width="5.80" height="19.00" fill="#3b7cb8" stroke="none" stroke-width="1" />
<text x="35.20" y="551.00" font-size="10.4" text-anchor="end" fill="#222" font-weight="normal" font-style="normal"  stroke="#222" stroke-width="0.13">-0.88</text>
<text x="46.60" y="551.00" font-size="9.0" text-anchor="start" fill="#3a3a3a" font-weight="normal" font-style="italic"  stroke="#3a3a3a" stroke-width="0.13">Gillisia</text>
<rect x="38.20" y="560.40" width="5.80" height="5.60" fill="#3a1a6a" stroke="none" stroke-width="1" />
<text x="35.20" y="565.00" font-size="10.4" text-anchor="end" fill="#222" font-weight="normal" font-style="normal"  stroke="#222" stroke-width="0.13">0.87</text>
<text x="46.60" y="566.00" font-size="9.0" text-anchor="start" fill="#3a3a3a" font-weight="normal" font-style="italic"  stroke="#3a3a3a" stroke-width="0.13">Gramella</text>
<rect x="38.20" y="568.00" width="5.80" height="10.60" fill="#e3f1d6" stroke="none" stroke-width="1" />
<text x="35.20" y="578.60" font-size="10.4" text-anchor="end" fill="#222" font-weight="normal" font-style="normal"  stroke="#222" stroke-width="0.13">-0.88</text>
<text x="46.60" y="575.60" font-size="9.0" text-anchor="start" fill="#3a3a3a" font-weight="normal" font-style="italic"  stroke="#3a3a3a" stroke-width="0.13">Lebetimonas</text>
<rect x="38.20" y="580.40" width="5.80" height="56.60" fill="#4a9bcb" stroke="none" stroke-width="1" />
<text x="35.20" y="613.60" font-size="10.4" text-anchor="end" fill="#222" font-weight="normal" font-style="normal"  stroke="#222" stroke-width="0.13">-0.92</text>
<text x="46.60" y="611.60" font-size="9.0" text-anchor="start" fill="#3a3a3a" font-weight="normal" font-style="italic"  stroke="#3a3a3a" stroke-width="0.13">Parabacteroides</text>
<rect x="38.20" y="639.00" width="5.80" height="6.00" fill="#3a70b0" stroke="none" stroke-width="1" />
<text x="35.20" y="644.40" font-size="10.4" text-anchor="end" fill="#222" font-weight="normal" font-style="normal"  stroke="#222" stroke-width="0.13">-0.87</text>
<rect x="38.20" y="647.00" width="5.80" height="19.00" fill="#6a2a9a" stroke="none" stroke-width="1" />
<text x="35.20" y="663.00" font-size="10.4" text-anchor="end" fill="#222" font-weight="normal" font-style="normal"  stroke="#222" stroke-width="0.13">-0.88</text>
<text x="46.60" y="659.00" font-size="9.0" text-anchor="start" fill="#3a3a3a" font-weight="normal" font-style="italic"  stroke="#3a3a3a" stroke-width="0.13">Tangfeifania</text>
<rect x="38.20" y="669.00" width="5.80" height="24.00" fill="#a23fa3" stroke="none" stroke-width="1" />
<text x="35.20" y="688.40" font-size="10.4" text-anchor="end" fill="#222" font-weight="normal" font-style="normal"  stroke="#222" stroke-width="0.13">-0.89</text>
<text x="46.60" y="683.00" font-size="9.0" text-anchor="start" fill="#3a3a3a" font-weight="normal" font-style="italic"  stroke="#3a3a3a" stroke-width="0.13">Williamwhitmania</text>
<text x="99.40" y="523.20" font-size="15" text-anchor="start" fill="#222" font-weight="normal" font-style="normal"  stroke="#222" stroke-width="0.13">*</text>
<rect x="128.60" y="461.10" width="6.80" height="242.40" fill="#b8e6c4" stroke="none" stroke-width="1" />
<g fill-opacity="0.55" stroke="#fff" stroke-width="0.35" stroke-opacity="0.45"><path d="M135.4,461.08 C177.5,461.08 177.5,461.98 219.6,461.98 L219.6,467.62 C177.5,467.62 177.5,466.70 135.4,466.70 Z" fill="#92c2e0"/><path d="M135.4,466.63 C177.5,466.63 177.5,469.95 219.6,469.95 L219.6,475.05 C177.5,475.05 177.5,471.72 135.4,471.72 Z" fill="#92c2e0"/><path d="M135.4,471.56 C177.5,471.56 177.5,476.90 219.6,476.90 L219.6,482.76 C177.5,482.76 177.5,477.74 135.4,477.74 Z" fill="#92c2e0"/><path d="M135.4,476.56 C177.5,476.56 177.5,543.04 219.6,543.04 L219.6,549.40 C177.5,549.40 177.5,483.70 135.4,483.70 Z" fill="#92c2e0"/><path d="M135.4,484.96 C177.5,484.96 177.5,692.64 219.6,692.64 L219.6,697.36 C177.5,697.36 177.5,489.65 135.4,489.65 Z" fill="#92c2e0"/><path d="M135.4,481.42 C177.5,481.42 177.5,581.45 219.6,581.45 L219.6,586.28 C177.5,586.28 177.5,487.50 135.4,487.50 Z" fill="#92c2e0"/><path d="M135.4,488.89 C177.5,488.89 177.5,482.56 219.6,482.56 L219.6,487.48 C177.5,487.48 177.5,494.11 135.4,494.11 Z" fill="#8c98cc"/><path d="M135.4,494.90 C177.5,494.90 177.5,487.29 219.6,487.29 L219.6,491.25 C177.5,491.25 177.5,499.10 135.4,499.10 Z" fill="#b4dcea"/><path d="M135.4,498.31 C177.5,498.31 177.5,569.37 219.6,569.37 L219.6,573.36 C177.5,573.36 177.5,502.69 135.4,502.69 Z" fill="#b4dcea"/><path d="M135.4,503.28 C177.5,503.28 177.5,490.76 219.6,490.76 L219.6,500.99 C177.5,500.99 177.5,514.19 135.4,514.19 Z" fill="#84badc"/><path d="M135.4,513.59 C177.5,513.59 177.5,531.82 219.6,531.82 L219.6,535.18 C177.5,535.18 177.5,516.97 135.4,516.97 Z" fill="#84badc"/><path d="M135.4,516.17 C177.5,516.17 177.5,547.90 219.6,547.90 L219.6,554.32 C177.5,554.32 177.5,523.45 135.4,523.45 Z" fill="#84badc"/><path d="M135.4,522.18 C177.5,522.18 177.5,572.14 219.6,572.14 L219.6,576.95 C177.5,576.95 177.5,527.51 135.4,527.51 Z" fill="#84badc"/><path d="M135.4,525.91 C177.5,525.91 177.5,584.58 219.6,584.58 L219.6,590.03 C177.5,590.03 177.5,532.85 135.4,532.85 Z" fill="#84badc"/><path d="M135.4,530.79 C177.5,530.79 177.5,597.93 219.6,597.93 L219.6,604.93 C177.5,604.93 177.5,538.03 135.4,538.03 Z" fill="#84badc"/><path d="M135.4,535.63 C177.5,535.63 177.5,614.76 219.6,614.76 L219.6,622.04 C177.5,622.04 177.5,543.26 135.4,543.26 Z" fill="#84badc"/><path d="M135.4,540.47 C177.5,540.47 177.5,631.61 219.6,631.61 L219.6,639.09 C177.5,639.09 177.5,548.49 135.4,548.49 Z" fill="#84badc"/><path d="M135.4,547.90 C177.5,547.90 177.5,499.85 219.6,499.85 L219.6,506.06 C177.5,506.06 177.5,554.58 135.4,554.58 Z" fill="#7ea8d6"/><path d="M135.4,553.53 C177.5,553.53 177.5,534.75 219.6,534.75 L219.6,539.25 C177.5,539.25 177.5,558.09 135.4,558.09 Z" fill="#7ea8d6"/><path d="M135.4,557.77 C177.5,557.77 177.5,553.71 219.6,553.71 L219.6,558.29 C177.5,558.29 177.5,562.99 135.4,562.99 Z" fill="#7ea8d6"/><path d="M135.4,562.24 C177.5,562.24 177.5,603.22 219.6,603.22 L219.6,609.38 C177.5,609.38 177.5,568.68 135.4,568.68 Z" fill="#7ea8d6"/><path d="M135.4,568.41 C177.5,568.41 177.5,504.10 219.6,504.10 L219.6,512.28 C177.5,512.28 177.5,577.09 135.4,577.09 Z" fill="#9a80c0"/><path d="M135.4,576.99 C177.5,576.99 177.5,576.35 219.6,576.35 L219.6,580.01 C177.5,580.01 177.5,581.01 135.4,581.01 Z" fill="#d6e8cc"/><path d="M135.4,580.90 C177.5,580.90 177.5,589.20 219.6,589.20 L219.6,592.53 C177.5,592.53 177.5,585.10 135.4,585.10 Z" fill="#d6e8cc"/><path d="M135.4,583.86 C177.5,583.86 177.5,701.03 219.6,701.03 L219.6,705.53 C177.5,705.53 177.5,589.14 135.4,589.14 Z" fill="#d6e8cc"/><path d="M135.4,587.49 C177.5,587.49 177.5,509.12 219.6,509.12 L219.6,520.56 C177.5,520.56 177.5,599.91 135.4,599.91 Z" fill="#80b4dc"/><path d="M135.4,597.13 C177.5,597.13 177.5,557.64 219.6,557.64 L219.6,563.25 C177.5,563.25 177.5,603.59 135.4,603.59 Z" fill="#80b4dc"/><path d="M135.4,602.73 C177.5,602.73 177.5,592.30 219.6,592.30 L219.6,596.54 C177.5,596.54 177.5,608.23 135.4,608.23 Z" fill="#80b4dc"/><path d="M135.4,608.03 C177.5,608.03 177.5,608.72 219.6,608.72 L219.6,613.61 C177.5,613.61 177.5,613.17 135.4,613.17 Z" fill="#80b4dc"/><path d="M135.4,612.92 C177.5,612.92 177.5,620.57 219.6,620.57 L219.6,630.63 C177.5,630.63 177.5,623.66 135.4,623.66 Z" fill="#80b4dc"/><path d="M135.4,623.17 C177.5,623.17 177.5,637.48 219.6,637.48 L219.6,642.62 C177.5,642.62 177.5,628.77 135.4,628.77 Z" fill="#80b4dc"/><path d="M135.4,628.31 C177.5,628.31 177.5,644.79 219.6,644.79 L219.6,649.21 C177.5,649.21 177.5,632.85 135.4,632.85 Z" fill="#80b4dc"/><path d="M135.4,632.14 C177.5,632.14 177.5,661.52 219.6,661.52 L219.6,667.48 C177.5,667.48 177.5,638.24 135.4,638.24 Z" fill="#80b4dc"/><path d="M135.4,641.65 C177.5,641.65 177.5,714.81 219.6,714.81 L219.6,722.19 C177.5,722.19 177.5,649.22 135.4,649.22 Z" fill="#80b4dc"/><path d="M135.4,637.34 C177.5,637.34 177.5,678.60 219.6,678.60 L219.6,682.40 C177.5,682.40 177.5,641.24 135.4,641.24 Z" fill="#80b4dc"/><path d="M135.4,640.53 C177.5,640.53 177.5,685.71 219.6,685.71 L219.6,688.29 C177.5,688.29 177.5,643.18 135.4,643.18 Z" fill="#80b4dc"/><path d="M135.4,649.00 C177.5,649.00 177.5,649.00 219.6,649.00 L219.6,654.00 C177.5,654.00 177.5,654.00 135.4,654.00 Z" fill="#8ca4d0"/><path d="M135.4,654.30 C177.5,654.30 177.5,516.50 219.6,516.50 L219.6,525.46 C177.5,525.46 177.5,663.17 135.4,663.17 Z" fill="#a480cc"/><path d="M135.4,665.69 C177.5,665.69 177.5,666.95 219.6,666.95 L219.6,676.05 C177.5,676.05 177.5,674.18 135.4,674.18 Z" fill="#a480cc"/><path d="M135.4,660.96 C177.5,660.96 177.5,653.89 219.6,653.89 L219.6,659.11 C177.5,659.11 177.5,665.84 135.4,665.84 Z" fill="#a480cc"/><path d="M135.4,674.08 C177.5,674.08 177.5,681.95 219.6,681.95 L219.6,684.05 C177.5,684.05 177.5,676.05 135.4,676.05 Z" fill="#a480cc"/><path d="M135.4,675.18 C177.5,675.18 177.5,520.48 219.6,520.48 L219.6,531.86 C177.5,531.86 177.5,686.40 135.4,686.40 Z" fill="#de84c4"/><path d="M135.4,682.26 C177.5,682.26 177.5,537.58 219.6,537.58 L219.6,543.42 C177.5,543.42 177.5,687.69 135.4,687.69 Z" fill="#de84c4"/><path d="M135.4,684.11 C177.5,684.11 177.5,560.51 219.6,560.51 L219.6,570.16 C177.5,570.16 177.5,694.21 135.4,694.21 Z" fill="#de84c4"/><path d="M135.4,691.92 C177.5,691.92 177.5,687.96 219.6,687.96 L219.6,691.04 C177.5,691.04 177.5,694.78 135.4,694.78 Z" fill="#de84c4"/><path d="M135.4,694.73 C177.5,694.73 177.5,695.99 219.6,695.99 L219.6,699.01 C177.5,699.01 177.5,697.55 135.4,697.55 Z" fill="#de84c4"/><path d="M135.4,697.48 C177.5,697.48 177.5,704.51 219.6,704.51 L219.6,706.65 C177.5,706.65 177.5,699.82 135.4,699.82 Z" fill="#de84c4"/><path d="M135.4,699.69 C177.5,699.69 177.5,708.84 219.6,708.84 L219.6,713.76 C177.5,713.76 177.5,702.08 135.4,702.08 Z" fill="#de84c4"/></g>
<rect x="128.60" y="461.10" width="6.80" height="27.20" fill="#2a9d8f" stroke="none" stroke-width="1" />
<rect x="128.60" y="489.00" width="6.80" height="5.00" fill="#17636b" stroke="none" stroke-width="1" />
<rect x="128.60" y="495.00" width="6.80" height="7.00" fill="#7fd3a0" stroke="none" stroke-width="1" />
<rect x="128.60" y="503.70" width="6.80" height="43.30" fill="#2a9d8f" stroke="none" stroke-width="1" />
<rect x="128.60" y="548.70" width="6.80" height="19.30" fill="#1f7d7a" stroke="none" stroke-width="1" />
<rect x="128.60" y="569.70" width="6.80" height="6.10" fill="#14505a" stroke="none" stroke-width="1" />
<rect x="128.60" y="577.00" width="6.80" height="11.00" fill="#5fc9a0" stroke="none" stroke-width="1" />
<rect x="128.60" y="589.60" width="6.80" height="58.40" fill="#2a9d8f" stroke="none" stroke-width="1" />
<rect x="128.60" y="649.00" width="6.80" height="5.00" fill="#1a4a50" stroke="none" stroke-width="1" />
<rect x="128.60" y="656.40" width="6.80" height="19.60" fill="#4a5a80" stroke="none" stroke-width="1" />
<rect x="128.60" y="678.00" width="6.80" height="24.00" fill="#727280" stroke="none" stroke-width="1" />
<rect x="219.60" y="462.00" width="5.80" height="5.60" fill="#a9dcc1" stroke="none" stroke-width="1" />
<text x="217.60" y="467.60" font-size="8.0" text-anchor="end" fill="#3a3a3a" font-weight="normal" font-style="normal"  stroke="#3a3a3a" stroke-width="0.13">K00819</text>
<rect x="219.60" y="470.00" width="5.80" height="5.00" fill="#5bb8d2" stroke="none" stroke-width="1" />
<text x="217.60" y="474.40" font-size="8.0" text-anchor="end" fill="#3a3a3a" font-weight="normal" font-style="normal"  stroke="#3a3a3a" stroke-width="0.13">K01840</text>
<rect x="219.60" y="477.00" width="5.80" height="52.00" fill="#3a80b8" stroke="none" stroke-width="1" />
<text x="217.60" y="506.00" font-size="8.0" text-anchor="end" fill="#3a3a3a" font-weight="normal" font-style="normal"  stroke="#3a3a3a" stroke-width="0.13">K03564</text>
<rect x="219.60" y="532.00" width="5.80" height="10.00" fill="#2a4a9a" stroke="none" stroke-width="1" />
<text x="217.60" y="539.60" font-size="8.0" text-anchor="end" fill="#3a3a3a" font-weight="normal" font-style="normal"  stroke="#3a3a3a" stroke-width="0.13">K09014</text>
<rect x="219.60" y="544.00" width="5.80" height="24.00" fill="#1a2a6a" stroke="none" stroke-width="1" />
<text x="217.60" y="558.00" font-size="8.0" text-anchor="end" fill="#3a3a3a" font-weight="normal" font-style="normal"  stroke="#3a3a3a" stroke-width="0.13">K15727</text>
<rect x="219.60" y="570.00" width="5.80" height="10.00" fill="#e3f1d6" stroke="none" stroke-width="1" />
<text x="217.60" y="578.00" font-size="8.0" text-anchor="end" fill="#3a3a3a" font-weight="normal" font-style="normal"  stroke="#3a3a3a" stroke-width="0.13">K00208</text>
<rect x="219.60" y="582.40" width="5.80" height="14.00" fill="#a0d8d0" stroke="none" stroke-width="1" />
<text x="217.60" y="593.00" font-size="8.0" text-anchor="end" fill="#3a3a3a" font-weight="normal" font-style="normal"  stroke="#3a3a3a" stroke-width="0.13">K00318</text>
<rect x="219.60" y="599.00" width="5.80" height="14.60" fill="#4aa0d0" stroke="none" stroke-width="1" />
<text x="217.60" y="610.00" font-size="8.0" text-anchor="end" fill="#3a3a3a" font-weight="normal" font-style="normal"  stroke="#3a3a3a" stroke-width="0.13">K01627</text>
<rect x="219.60" y="616.00" width="5.80" height="14.40" fill="#3a80c0" stroke="none" stroke-width="1" />
<text x="217.60" y="627.00" font-size="8.0" text-anchor="end" fill="#3a3a3a" font-weight="normal" font-style="normal"  stroke="#3a3a3a" stroke-width="0.13">K01809</text>
<rect x="219.60" y="633.00" width="5.80" height="9.40" fill="#3a6ab0" stroke="none" stroke-width="1" />
<text x="217.60" y="641.00" font-size="8.0" text-anchor="end" fill="#3a3a3a" font-weight="normal" font-style="normal"  stroke="#3a3a3a" stroke-width="0.13">K02014</text>
<rect x="219.60" y="645.00" width="5.80" height="14.00" fill="#3a1060" stroke="none" stroke-width="1" />
<text x="217.60" y="655.60" font-size="8.0" text-anchor="end" fill="#3a3a3a" font-weight="normal" font-style="normal"  stroke="#3a3a3a" stroke-width="0.13">K03146</text>
<rect x="219.60" y="662.00" width="5.80" height="14.00" fill="#6a20a0" stroke="none" stroke-width="1" />
<text x="217.60" y="672.00" font-size="8.0" text-anchor="end" fill="#3a3a3a" font-weight="normal" font-style="normal"  stroke="#3a3a3a" stroke-width="0.13">K05807</text>
<rect x="219.60" y="679.00" width="5.80" height="5.00" fill="#8030b0" stroke="none" stroke-width="1" />
<text x="217.60" y="683.40" font-size="8.0" text-anchor="end" fill="#3a3a3a" font-weight="normal" font-style="normal"  stroke="#3a3a3a" stroke-width="0.13">K01186</text>
<rect x="219.60" y="686.00" width="5.80" height="5.00" fill="#a030a0" stroke="none" stroke-width="1" />
<text x="217.60" y="691.00" font-size="8.0" text-anchor="end" fill="#3a3a3a" font-weight="normal" font-style="normal"  stroke="#3a3a3a" stroke-width="0.13">K02242</text>
<rect x="219.60" y="694.00" width="5.80" height="5.00" fill="#d04090" stroke="none" stroke-width="1" />
<text x="217.60" y="699.00" font-size="8.0" text-anchor="end" fill="#3a3a3a" font-weight="normal" font-style="normal"  stroke="#3a3a3a" stroke-width="0.13">K02523</text>
<rect x="219.60" y="702.00" width="5.80" height="4.60" fill="#a9dcc1" stroke="none" stroke-width="1" />
<text x="217.60" y="706.00" font-size="8.0" text-anchor="end" fill="#3a3a3a" font-weight="normal" font-style="normal"  stroke="#3a3a3a" stroke-width="0.13">K01962</text>
<rect x="219.60" y="709.00" width="5.80" height="4.60" fill="#5bb8d2" stroke="none" stroke-width="1" />
<text x="217.60" y="714.30" font-size="8.0" text-anchor="end" fill="#3a3a3a" font-weight="normal" font-style="normal"  stroke="#3a3a3a" stroke-width="0.13">K02622</text>
<rect x="219.60" y="716.00" width="5.80" height="5.00" fill="#3a80c0" stroke="none" stroke-width="1" />
<text x="217.60" y="721.80" font-size="8.0" text-anchor="end" fill="#3a3a3a" font-weight="normal" font-style="normal"  stroke="#3a3a3a" stroke-width="0.13">K06958</text>
<path d="M227.2,462.2 Q233.6,462.6 232.2,468.2 Q231.2,473.6 227.2,474.2" fill="none" stroke="#222" stroke-width="0.8" />
<path d="M226.2,583 Q233.6,585 232.4,606.5 Q231.6,628.6 226.2,630.2" fill="none" stroke="#222" stroke-width="0.8" />
<text x="233.60" y="468.60" font-size="9.0" text-anchor="start" fill="#222" font-weight="normal" font-style="normal"  stroke="#222" stroke-width="0.13">Biosynthesis of</text>
<text x="233.60" y="479.20" font-size="9.0" text-anchor="start" fill="#222" font-weight="normal" font-style="normal"  stroke="#222" stroke-width="0.13">secondary metabolites</text>
<text x="227.00" y="507.60" font-size="9.0" text-anchor="start" fill="#222" font-weight="normal" font-style="normal"  stroke="#222" stroke-width="0.13">Enzymes with EC</text>
<text x="227.00" y="517.60" font-size="9.0" text-anchor="start" fill="#222" font-weight="normal" font-style="normal"  stroke="#222" stroke-width="0.13">numbers</text>
<text x="227.00" y="539.00" font-size="9.0" text-anchor="start" fill="#222" font-weight="normal" font-style="normal"  stroke="#222" stroke-width="0.13">Poorly characterized</text>
<text x="227.00" y="558.40" font-size="9.0" text-anchor="start" fill="#222" font-weight="normal" font-style="normal"  stroke="#222" stroke-width="0.13">Transporters</text>
<text x="227.00" y="577.00" font-size="9.0" text-anchor="start" fill="#1a8ca8" font-weight="normal" font-style="normal"  stroke="#1a8ca8" stroke-width="0.13">Fatty acid metabolism</text>
<text x="234.00" y="614.00" font-size="9.0" text-anchor="start" fill="#222" font-weight="normal" font-style="normal"  stroke="#222" stroke-width="0.13">Metabolic pathways</text>
<text x="227.00" y="641.40" font-size="9.0" text-anchor="start" fill="#222" font-weight="normal" font-style="normal"  stroke="#222" stroke-width="0.13">Transporters</text>
<text x="227.00" y="657.00" font-size="9.0" text-anchor="start" fill="#222" font-weight="normal" font-style="normal"  stroke="#222" stroke-width="0.13">Metabolic pathways</text>
<text x="227.00" y="671.50" font-size="9.0" text-anchor="start" fill="#222" font-weight="normal" font-style="normal"  stroke="#222" stroke-width="0.13">Transporters</text>
<text x="227.00" y="684.00" font-size="9.0" text-anchor="start" fill="#1a8ca8" font-weight="normal" font-style="normal"  stroke="#1a8ca8" stroke-width="0.13">Sphingolipid metabolism</text>
<text x="227.00" y="692.60" font-size="9.0" text-anchor="start" fill="#222" font-weight="normal" font-style="normal"  stroke="#222" stroke-width="0.13">Secretion system</text>
<text x="227.00" y="706.60" font-size="9.0" text-anchor="start" fill="#1a8ca8" font-weight="normal" font-style="normal"  stroke="#1a8ca8" stroke-width="0.13">Fatty acid metabolism</text>
<text x="227.00" y="722.20" font-size="9.0" text-anchor="start" fill="#222" font-weight="normal" font-style="normal"  stroke="#222" stroke-width="0.13">mRNA biogenesis</text>
<path d="M25,695 L30.6,706 L25,703 L19.4,706 Z" fill="#111" stroke="none" stroke-width="1" />
<rect x="7.00" y="712.00" width="113.00" height="16.20" fill="#efefef" stroke="none" stroke-width="1" />
<text x="10.40" y="723.60" font-size="10.48" text-anchor="start" fill="#222" font-weight="normal" font-style="normal"  stroke="#222" stroke-width="0.13">Correlation coefficient</text>
<text x="323.20" y="430.50" font-size="16.5" text-anchor="start" fill="#111" font-weight="bold" font-style="normal" >h</text>
<rect x="463.8" y="422.6" width="10" height="7.6" rx="1.6" fill="#fff" stroke="#222" stroke-width="1"/>
<text x="477.00" y="429.80" font-size="10.6" text-anchor="start" fill="#222" font-weight="normal" font-style="normal"  stroke="#222" stroke-width="0.13">WT+Veh</text>
<rect x="524" y="422.4" width="10.6" height="8" rx="1.6" fill="#a0a0a2"/>
<text x="540.00" y="429.80" font-size="10.5" text-anchor="start" fill="#9a9a9a" font-weight="normal" font-style="normal"  stroke="#9a9a9a" stroke-width="0.13">5xFAD+Veh</text>
<rect x="604" y="422.4" width="11" height="8" rx="1.6" fill="#1a91aa"/>
<text x="619.60" y="429.80" font-size="10.41" text-anchor="start" fill="#1a8ca8" font-weight="normal" font-style="normal"  stroke="#1a8ca8" stroke-width="0.13">5xFAD+Cap</text>
<text x="388.4" y="443.6" font-size="10.4" fill="#222" stroke="#222" stroke-width="0.13"><tspan font-style="italic">Oscillibacter</tspan> species</text>
<line x1="384.40" y1="446.40" x2="384.40" y2="516.90" stroke="#333" stroke-width="1" />
<line x1="384.40" y1="516.40" x2="676.00" y2="516.40" stroke="#333" stroke-width="1" />
<line x1="381.80" y1="516.40" x2="384.40" y2="516.40" stroke="#333" stroke-width="1" />
<text x="381.00" y="520.40" font-size="10.6" text-anchor="end" fill="#222" font-weight="normal" font-style="normal"  stroke="#222" stroke-width="0.13">0.0</text>
<line x1="381.80" y1="500.50" x2="384.40" y2="500.50" stroke="#333" stroke-width="1" />
<text x="381.00" y="504.50" font-size="10.6" text-anchor="end" fill="#222" font-weight="normal" font-style="normal"  stroke="#222" stroke-width="0.13">0.5</text>
<line x1="381.80" y1="484.60" x2="384.40" y2="484.60" stroke="#333" stroke-width="1" />
<text x="381.00" y="488.60" font-size="10.6" text-anchor="end" fill="#222" font-weight="normal" font-style="normal"  stroke="#222" stroke-width="0.13">1.0</text>
<line x1="381.80" y1="468.70" x2="384.40" y2="468.70" stroke="#333" stroke-width="1" />
<text x="381.00" y="472.70" font-size="10.6" text-anchor="end" fill="#222" font-weight="normal" font-style="normal"  stroke="#222" stroke-width="0.13">1.5</text>
<line x1="381.80" y1="452.80" x2="384.40" y2="452.80" stroke="#333" stroke-width="1" />
<text x="381.00" y="456.80" font-size="10.6" text-anchor="end" fill="#222" font-weight="normal" font-style="normal"  stroke="#222" stroke-width="0.13">2.0</text>
<text x="0" y="0" font-size="10.0" text-anchor="middle" fill="#222" transform="translate(350.4,480.8) rotate(-90)" stroke="#222" stroke-width="0.13">Relative abundance</text>
<text x="0" y="0" font-size="10.0" text-anchor="middle" fill="#222" transform="translate(361.4,480.8) rotate(-90)" stroke="#222" stroke-width="0.13">(%)</text>
<line x1="384.40" y1="484.60" x2="676.00" y2="484.60" stroke="#b040c0" stroke-width="1.1" />
<path d="M396.59,466.00 L397.60,469.50 L397.60,473.00 L397.30,476.50 L397.00,480.00 L396.90,483.50 L397.00,487.00 L397.30,490.50 L397.60,494.00 L397.50,497.50 L390.50,497.50 L390.40,494.00 L390.70,490.50 L391.00,487.00 L391.10,483.50 L391.00,480.00 L390.70,476.50 L390.40,473.00 L390.40,469.50 L391.41,466.00 Z" fill="#fff" stroke="#222" stroke-width="0.75" stroke-linejoin="round"/>
<line x1="390.40" y1="469.78" x2="397.60" y2="469.78" stroke="#111" stroke-width="0.7" />
<line x1="390.42" y1="493.72" x2="397.58" y2="493.72" stroke="#111" stroke-width="0.7" />
<line x1="391.06" y1="485.00" x2="396.94" y2="485.00" stroke="#111" stroke-width="1.2" />
<circle cx="394.00" cy="466.50" r="0.95" fill="#111" stroke="none" stroke-width="1" />
<line x1="392.40" y1="466.50" x2="395.60" y2="466.50" stroke="#111" stroke-width="0.6" />
<circle cx="394.00" cy="477.00" r="0.95" fill="#111" stroke="none" stroke-width="1" />
<line x1="392.40" y1="477.00" x2="395.60" y2="477.00" stroke="#111" stroke-width="0.6" />
<circle cx="394.00" cy="497.00" r="0.95" fill="#111" stroke="none" stroke-width="1" />
<line x1="392.40" y1="497.00" x2="395.60" y2="497.00" stroke="#111" stroke-width="0.6" />
<path d="M403.90,487.80 L404.80,490.33 L403.80,492.87 L402.80,495.40 L403.20,497.93 L404.20,500.47 L405.00,503.00 L405.30,505.53 L405.00,508.07 L404.05,510.60 L399.15,510.60 L398.20,508.07 L397.90,505.53 L398.20,503.00 L399.00,500.47 L400.00,497.93 L400.40,495.40 L399.40,492.87 L398.40,490.33 L399.30,487.80 Z" fill="#a6a6a8" stroke="#222" stroke-width="0.75" stroke-linejoin="round"/>
<line x1="398.48" y1="490.54" x2="404.72" y2="490.54" stroke="#111" stroke-width="0.7" />
<line x1="398.18" y1="507.86" x2="405.02" y2="507.86" stroke="#111" stroke-width="0.7" />
<line x1="398.20" y1="503.00" x2="405.00" y2="503.00" stroke="#111" stroke-width="1.2" />
<circle cx="401.60" cy="489.00" r="0.95" fill="#111" stroke="none" stroke-width="1" />
<line x1="400.00" y1="489.00" x2="403.20" y2="489.00" stroke="#111" stroke-width="0.6" />
<circle cx="401.60" cy="505.00" r="0.95" fill="#111" stroke="none" stroke-width="1" />
<line x1="400.00" y1="505.00" x2="403.20" y2="505.00" stroke="#111" stroke-width="0.6" />
<circle cx="401.60" cy="510.00" r="0.95" fill="#111" stroke="none" stroke-width="1" />
<line x1="400.00" y1="510.00" x2="403.20" y2="510.00" stroke="#111" stroke-width="0.6" />
<path d="M409.92,476.40 L410.20,478.58 L410.60,480.76 L411.00,482.93 L411.50,485.11 L412.20,487.29 L412.80,489.47 L413.00,491.64 L412.80,493.82 L411.79,496.00 L406.61,496.00 L405.60,493.82 L405.40,491.64 L405.60,489.47 L406.20,487.29 L406.90,485.11 L407.40,482.93 L407.80,480.76 L408.20,478.58 L408.48,476.40 Z" fill="#1a91aa" stroke="#222" stroke-width="0.75" stroke-linejoin="round"/>
<line x1="408.17" y1="478.75" x2="410.23" y2="478.75" stroke="#111" stroke-width="0.7" />
<line x1="405.58" y1="493.65" x2="412.82" y2="493.65" stroke="#111" stroke-width="0.7" />
<line x1="405.52" y1="493.00" x2="412.88" y2="493.00" stroke="#111" stroke-width="1.2" />
<circle cx="409.20" cy="477.00" r="0.95" fill="#111" stroke="none" stroke-width="1" />
<line x1="407.60" y1="477.00" x2="410.80" y2="477.00" stroke="#111" stroke-width="0.6" />
<circle cx="409.20" cy="487.00" r="0.95" fill="#111" stroke="none" stroke-width="1" />
<line x1="407.60" y1="487.00" x2="410.80" y2="487.00" stroke="#111" stroke-width="0.6" />
<circle cx="409.20" cy="495.00" r="0.95" fill="#111" stroke="none" stroke-width="1" />
<line x1="407.60" y1="495.00" x2="410.80" y2="495.00" stroke="#111" stroke-width="0.6" />
<line x1="401.60" y1="516.40" x2="401.60" y2="519.20" stroke="#333" stroke-width="1" />
<text x="0" y="0" font-size="10.4" text-anchor="end" fill="#222" transform="translate(405.40,525.60) rotate(-45)" stroke="#222" stroke-width="0.13">PEA192</text>
<path d="M425.57,465.50 L426.52,469.24 L426.52,472.99 L425.92,476.73 L425.72,480.48 L425.32,484.22 L425.52,487.97 L426.12,491.71 L426.72,495.46 L425.71,499.20 L420.53,499.20 L419.52,495.46 L420.12,491.71 L420.72,487.97 L420.92,484.22 L420.52,480.48 L420.32,476.73 L419.72,472.99 L419.72,469.24 L420.67,465.50 Z" fill="#fff" stroke="#222" stroke-width="0.75" stroke-linejoin="round"/>
<line x1="419.72" y1="469.54" x2="426.52" y2="469.54" stroke="#111" stroke-width="0.7" />
<line x1="419.57" y1="495.16" x2="426.67" y2="495.16" stroke="#111" stroke-width="0.7" />
<line x1="420.90" y1="484.00" x2="425.34" y2="484.00" stroke="#111" stroke-width="1.2" />
<circle cx="423.12" cy="466.00" r="0.95" fill="#111" stroke="none" stroke-width="1" />
<line x1="421.52" y1="466.00" x2="424.72" y2="466.00" stroke="#111" stroke-width="0.6" />
<circle cx="423.12" cy="478.00" r="0.95" fill="#111" stroke="none" stroke-width="1" />
<line x1="421.52" y1="478.00" x2="424.72" y2="478.00" stroke="#111" stroke-width="0.6" />
<circle cx="423.12" cy="498.00" r="0.95" fill="#111" stroke="none" stroke-width="1" />
<line x1="421.52" y1="498.00" x2="424.72" y2="498.00" stroke="#111" stroke-width="0.6" />
<path d="M431.37,490.50 L431.62,492.97 L432.02,495.43 L432.52,497.90 L433.22,500.37 L433.92,502.83 L434.32,505.30 L434.52,507.77 L434.12,510.23 L433.17,512.70 L428.27,512.70 L427.32,510.23 L426.92,507.77 L427.12,505.30 L427.52,502.83 L428.22,500.37 L428.92,497.90 L429.42,495.43 L429.82,492.97 L430.07,490.50 Z" fill="#a6a6a8" stroke="#222" stroke-width="0.75" stroke-linejoin="round"/>
<line x1="429.79" y1="493.16" x2="431.65" y2="493.16" stroke="#111" stroke-width="0.7" />
<line x1="427.29" y1="510.04" x2="434.15" y2="510.04" stroke="#111" stroke-width="0.7" />
<line x1="426.98" y1="507.00" x2="434.46" y2="507.00" stroke="#111" stroke-width="1.2" />
<circle cx="430.72" cy="504.00" r="0.95" fill="#111" stroke="none" stroke-width="1" />
<line x1="429.12" y1="504.00" x2="432.32" y2="504.00" stroke="#111" stroke-width="0.6" />
<circle cx="430.72" cy="512.00" r="0.95" fill="#111" stroke="none" stroke-width="1" />
<line x1="429.12" y1="512.00" x2="432.32" y2="512.00" stroke="#111" stroke-width="0.6" />
<path d="M439.04,477.00 L439.32,479.04 L439.82,481.09 L440.32,483.13 L441.02,485.18 L441.62,487.22 L442.12,489.27 L442.12,491.31 L441.52,493.36 L440.62,495.40 L436.02,495.40 L435.12,493.36 L434.52,491.31 L434.52,489.27 L435.02,487.22 L435.62,485.18 L436.32,483.13 L436.82,481.09 L437.32,479.04 L437.60,477.00 Z" fill="#1a91aa" stroke="#222" stroke-width="0.75" stroke-linejoin="round"/>
<line x1="437.28" y1="479.21" x2="439.36" y2="479.21" stroke="#111" stroke-width="0.7" />
<line x1="435.07" y1="493.19" x2="441.57" y2="493.19" stroke="#111" stroke-width="0.7" />
<line x1="434.52" y1="490.50" x2="442.12" y2="490.50" stroke="#111" stroke-width="1.2" />
<circle cx="438.32" cy="478.00" r="0.95" fill="#111" stroke="none" stroke-width="1" />
<line x1="436.72" y1="478.00" x2="439.92" y2="478.00" stroke="#111" stroke-width="0.6" />
<circle cx="438.32" cy="489.00" r="0.95" fill="#111" stroke="none" stroke-width="1" />
<line x1="436.72" y1="489.00" x2="439.92" y2="489.00" stroke="#111" stroke-width="0.6" />
<circle cx="438.32" cy="494.00" r="0.95" fill="#111" stroke="none" stroke-width="1" />
<line x1="436.72" y1="494.00" x2="439.92" y2="494.00" stroke="#111" stroke-width="0.6" />
<line x1="430.72" y1="516.40" x2="430.72" y2="519.20" stroke="#333" stroke-width="1" />
<text x="0" y="0" font-size="10.4" text-anchor="end" fill="#222" transform="translate(434.52,525.60) rotate(-45)" stroke="#222" stroke-width="0.13">PC13</text>
<path d="M453.82,465.00 L454.44,468.78 L454.24,472.56 L454.84,476.33 L455.74,480.11 L455.74,483.89 L455.24,487.67 L454.84,491.44 L455.24,495.22 L454.40,499.00 L450.08,499.00 L449.24,495.22 L449.64,491.44 L449.24,487.67 L448.74,483.89 L448.74,480.11 L449.64,476.33 L450.24,472.56 L450.04,468.78 L450.66,465.00 Z" fill="#fff" stroke="#222" stroke-width="0.75" stroke-linejoin="round"/>
<line x1="450.06" y1="469.08" x2="454.42" y2="469.08" stroke="#111" stroke-width="0.7" />
<line x1="449.27" y1="494.92" x2="455.21" y2="494.92" stroke="#111" stroke-width="0.7" />
<line x1="448.74" y1="482.00" x2="455.74" y2="482.00" stroke="#111" stroke-width="1.2" />
<circle cx="452.24" cy="466.00" r="0.95" fill="#111" stroke="none" stroke-width="1" />
<line x1="450.64" y1="466.00" x2="453.84" y2="466.00" stroke="#111" stroke-width="0.6" />
<circle cx="452.24" cy="481.00" r="0.95" fill="#111" stroke="none" stroke-width="1" />
<line x1="450.64" y1="481.00" x2="453.84" y2="481.00" stroke="#111" stroke-width="0.6" />
<circle cx="452.24" cy="496.00" r="0.95" fill="#111" stroke="none" stroke-width="1" />
<line x1="450.64" y1="496.00" x2="453.84" y2="496.00" stroke="#111" stroke-width="0.6" />
<path d="M461.71,495.60 L462.44,497.76 L463.04,499.91 L463.24,502.07 L463.24,504.22 L463.24,506.38 L463.04,508.53 L462.64,510.69 L461.64,512.84 L461.14,515.00 L458.54,515.00 L458.04,512.84 L457.04,510.69 L456.64,508.53 L456.44,506.38 L456.44,504.22 L456.44,502.07 L456.64,499.91 L457.24,497.76 L457.97,495.60 Z" fill="#a6a6a8" stroke="#222" stroke-width="0.75" stroke-linejoin="round"/>
<line x1="457.19" y1="497.93" x2="462.49" y2="497.93" stroke="#111" stroke-width="0.7" />
<line x1="457.96" y1="512.67" x2="461.72" y2="512.67" stroke="#111" stroke-width="0.7" />
<line x1="456.59" y1="508.00" x2="463.09" y2="508.00" stroke="#111" stroke-width="1.2" />
<circle cx="459.84" cy="497.00" r="0.95" fill="#111" stroke="none" stroke-width="1" />
<line x1="458.24" y1="497.00" x2="461.44" y2="497.00" stroke="#111" stroke-width="0.6" />
<circle cx="459.84" cy="504.00" r="0.95" fill="#111" stroke="none" stroke-width="1" />
<line x1="458.24" y1="504.00" x2="461.44" y2="504.00" stroke="#111" stroke-width="0.6" />
<circle cx="459.84" cy="514.00" r="0.95" fill="#111" stroke="none" stroke-width="1" />
<line x1="458.24" y1="514.00" x2="461.44" y2="514.00" stroke="#111" stroke-width="0.6" />
<path d="M469.74,479.00 L470.64,481.16 L471.04,483.31 L469.84,485.47 L469.24,487.62 L469.84,489.78 L470.84,491.93 L471.04,494.09 L470.64,496.24 L469.74,498.40 L465.14,498.40 L464.24,496.24 L463.84,494.09 L464.04,491.93 L465.04,489.78 L465.64,487.62 L465.04,485.47 L463.84,483.31 L464.24,481.16 L465.14,479.00 Z" fill="#1a91aa" stroke="#222" stroke-width="0.75" stroke-linejoin="round"/>
<line x1="464.21" y1="481.33" x2="470.67" y2="481.33" stroke="#111" stroke-width="0.7" />
<line x1="464.21" y1="496.07" x2="470.67" y2="496.07" stroke="#111" stroke-width="0.7" />
<line x1="465.53" y1="488.00" x2="469.35" y2="488.00" stroke="#111" stroke-width="1.2" />
<circle cx="467.44" cy="480.00" r="0.95" fill="#111" stroke="none" stroke-width="1" />
<line x1="465.84" y1="480.00" x2="469.04" y2="480.00" stroke="#111" stroke-width="0.6" />
<circle cx="467.44" cy="489.00" r="0.95" fill="#111" stroke="none" stroke-width="1" />
<line x1="465.84" y1="489.00" x2="469.04" y2="489.00" stroke="#111" stroke-width="0.6" />
<circle cx="467.44" cy="497.00" r="0.95" fill="#111" stroke="none" stroke-width="1" />
<line x1="465.84" y1="497.00" x2="469.04" y2="497.00" stroke="#111" stroke-width="0.6" />
<line x1="459.84" y1="516.40" x2="459.84" y2="519.20" stroke="#333" stroke-width="1" />
<text x="0" y="0" font-size="10.4" text-anchor="end" fill="#222" transform="translate(463.64,525.60) rotate(-45)" stroke="#222" stroke-width="0.13">KLE_1745</text>
<path d="M482.94,463.00 L483.56,467.33 L483.16,471.67 L482.96,476.00 L483.96,480.33 L484.76,484.67 L484.56,489.00 L483.96,493.33 L484.16,497.67 L483.38,502.00 L479.34,502.00 L478.56,497.67 L478.76,493.33 L478.16,489.00 L477.96,484.67 L478.76,480.33 L479.76,476.00 L479.56,471.67 L479.16,467.33 L479.78,463.00 Z" fill="#fff" stroke="#222" stroke-width="0.75" stroke-linejoin="round"/>
<line x1="479.19" y1="467.68" x2="483.53" y2="467.68" stroke="#111" stroke-width="0.7" />
<line x1="478.58" y1="497.32" x2="484.14" y2="497.32" stroke="#111" stroke-width="0.7" />
<line x1="478.54" y1="481.50" x2="484.18" y2="481.50" stroke="#111" stroke-width="1.2" />
<circle cx="481.36" cy="464.00" r="0.95" fill="#111" stroke="none" stroke-width="1" />
<line x1="479.76" y1="464.00" x2="482.96" y2="464.00" stroke="#111" stroke-width="0.6" />
<circle cx="481.36" cy="481.00" r="0.95" fill="#111" stroke="none" stroke-width="1" />
<line x1="479.76" y1="481.00" x2="482.96" y2="481.00" stroke="#111" stroke-width="0.6" />
<circle cx="481.36" cy="500.00" r="0.95" fill="#111" stroke="none" stroke-width="1" />
<line x1="479.76" y1="500.00" x2="482.96" y2="500.00" stroke="#111" stroke-width="0.6" />
<path d="M489.61,486.40 L489.86,489.02 L490.06,491.64 L490.36,494.27 L490.76,496.89 L491.46,499.51 L492.26,502.13 L492.76,504.76 L492.36,507.38 L491.41,510.00 L486.51,510.00 L485.56,507.38 L485.16,504.76 L485.66,502.13 L486.46,499.51 L487.16,496.89 L487.56,494.27 L487.86,491.64 L488.06,489.02 L488.31,486.40 Z" fill="#a6a6a8" stroke="#222" stroke-width="0.75" stroke-linejoin="round"/>
<line x1="488.04" y1="489.23" x2="489.88" y2="489.23" stroke="#111" stroke-width="0.7" />
<line x1="485.53" y1="507.17" x2="492.39" y2="507.17" stroke="#111" stroke-width="0.7" />
<line x1="485.35" y1="506.00" x2="492.57" y2="506.00" stroke="#111" stroke-width="1.2" />
<circle cx="488.96" cy="488.00" r="0.95" fill="#111" stroke="none" stroke-width="1" />
<line x1="487.36" y1="488.00" x2="490.56" y2="488.00" stroke="#111" stroke-width="0.6" />
<circle cx="488.96" cy="506.00" r="0.95" fill="#111" stroke="none" stroke-width="1" />
<line x1="487.36" y1="506.00" x2="490.56" y2="506.00" stroke="#111" stroke-width="0.6" />
<circle cx="488.96" cy="509.00" r="0.95" fill="#111" stroke="none" stroke-width="1" />
<line x1="487.36" y1="509.00" x2="490.56" y2="509.00" stroke="#111" stroke-width="0.6" />
<path d="M497.21,476.00 L497.46,478.49 L497.56,480.98 L497.76,483.47 L498.06,485.96 L498.56,488.44 L499.46,490.93 L500.36,493.42 L500.36,495.91 L499.30,498.40 L493.82,498.40 L492.76,495.91 L492.76,493.42 L493.66,490.93 L494.56,488.44 L495.06,485.96 L495.36,483.47 L495.56,480.98 L495.66,478.49 L495.91,476.00 Z" fill="#1a91aa" stroke="#222" stroke-width="0.75" stroke-linejoin="round"/>
<line x1="495.65" y1="478.69" x2="497.47" y2="478.69" stroke="#111" stroke-width="0.7" />
<line x1="492.76" y1="495.71" x2="500.36" y2="495.71" stroke="#111" stroke-width="0.7" />
<line x1="492.76" y1="495.00" x2="500.36" y2="495.00" stroke="#111" stroke-width="1.2" />
<circle cx="496.56" cy="477.00" r="0.95" fill="#111" stroke="none" stroke-width="1" />
<line x1="494.96" y1="477.00" x2="498.16" y2="477.00" stroke="#111" stroke-width="0.6" />
<circle cx="496.56" cy="488.00" r="0.95" fill="#111" stroke="none" stroke-width="1" />
<line x1="494.96" y1="488.00" x2="498.16" y2="488.00" stroke="#111" stroke-width="0.6" />
<circle cx="496.56" cy="497.00" r="0.95" fill="#111" stroke="none" stroke-width="1" />
<line x1="494.96" y1="497.00" x2="498.16" y2="497.00" stroke="#111" stroke-width="0.6" />
<line x1="488.96" y1="516.40" x2="488.96" y2="519.20" stroke="#333" stroke-width="1" />
<text x="0" y="0" font-size="10.4" text-anchor="end" fill="#222" transform="translate(492.76,525.60) rotate(-45)" stroke="#222" stroke-width="0.13">KLE_1728</text>
<path d="M513.07,470.40 L514.08,473.80 L513.78,477.20 L512.88,480.60 L512.68,484.00 L512.88,487.40 L513.28,490.80 L513.48,494.20 L513.08,497.60 L512.35,501.00 L508.61,501.00 L507.88,497.60 L507.48,494.20 L507.68,490.80 L508.08,487.40 L508.28,484.00 L508.08,480.60 L507.18,477.20 L506.88,473.80 L507.89,470.40 Z" fill="#fff" stroke="#222" stroke-width="0.75" stroke-linejoin="round"/>
<line x1="506.90" y1="474.07" x2="514.06" y2="474.07" stroke="#111" stroke-width="0.7" />
<line x1="507.85" y1="497.33" x2="513.11" y2="497.33" stroke="#111" stroke-width="0.7" />
<line x1="508.16" y1="482.00" x2="512.80" y2="482.00" stroke="#111" stroke-width="1.2" />
<circle cx="510.48" cy="472.00" r="0.95" fill="#111" stroke="none" stroke-width="1" />
<line x1="508.88" y1="472.00" x2="512.08" y2="472.00" stroke="#111" stroke-width="0.6" />
<circle cx="510.48" cy="481.00" r="0.95" fill="#111" stroke="none" stroke-width="1" />
<line x1="508.88" y1="481.00" x2="512.08" y2="481.00" stroke="#111" stroke-width="0.6" />
<circle cx="510.48" cy="492.00" r="0.95" fill="#111" stroke="none" stroke-width="1" />
<line x1="508.88" y1="492.00" x2="512.08" y2="492.00" stroke="#111" stroke-width="0.6" />
<circle cx="510.48" cy="500.00" r="0.95" fill="#111" stroke="none" stroke-width="1" />
<line x1="508.88" y1="500.00" x2="512.08" y2="500.00" stroke="#111" stroke-width="0.6" />
<path d="M520.67,487.00 L521.68,489.78 L521.28,492.56 L520.68,495.33 L520.28,498.11 L520.88,500.89 L521.68,503.67 L521.88,506.44 L521.48,509.22 L520.53,512.00 L515.63,512.00 L514.68,509.22 L514.28,506.44 L514.48,503.67 L515.28,500.89 L515.88,498.11 L515.48,495.33 L514.88,492.56 L514.48,489.78 L515.49,487.00 Z" fill="#a6a6a8" stroke="#222" stroke-width="0.75" stroke-linejoin="round"/>
<line x1="514.51" y1="490.00" x2="521.65" y2="490.00" stroke="#111" stroke-width="0.7" />
<line x1="514.65" y1="509.00" x2="521.51" y2="509.00" stroke="#111" stroke-width="0.7" />
<line x1="514.82" y1="502.50" x2="521.34" y2="502.50" stroke="#111" stroke-width="1.2" />
<circle cx="518.08" cy="488.00" r="0.95" fill="#111" stroke="none" stroke-width="1" />
<line x1="516.48" y1="488.00" x2="519.68" y2="488.00" stroke="#111" stroke-width="0.6" />
<circle cx="518.08" cy="499.00" r="0.95" fill="#111" stroke="none" stroke-width="1" />
<line x1="516.48" y1="499.00" x2="519.68" y2="499.00" stroke="#111" stroke-width="0.6" />
<circle cx="518.08" cy="510.00" r="0.95" fill="#111" stroke="none" stroke-width="1" />
<line x1="516.48" y1="510.00" x2="519.68" y2="510.00" stroke="#111" stroke-width="0.6" />
<path d="M528.13,474.40 L529.08,476.62 L528.68,478.84 L527.48,481.07 L527.28,483.29 L528.28,485.51 L529.28,487.73 L529.28,489.96 L528.48,492.18 L527.70,494.40 L523.66,494.40 L522.88,492.18 L522.08,489.96 L522.08,487.73 L523.08,485.51 L524.08,483.29 L523.88,481.07 L522.68,478.84 L522.28,476.62 L523.23,474.40 Z" fill="#1a91aa" stroke="#222" stroke-width="0.75" stroke-linejoin="round"/>
<line x1="522.31" y1="476.80" x2="529.05" y2="476.80" stroke="#111" stroke-width="0.7" />
<line x1="522.82" y1="492.00" x2="528.54" y2="492.00" stroke="#111" stroke-width="0.7" />
<line x1="522.86" y1="486.00" x2="528.50" y2="486.00" stroke="#111" stroke-width="1.2" />
<circle cx="525.68" cy="475.00" r="0.95" fill="#111" stroke="none" stroke-width="1" />
<line x1="524.08" y1="475.00" x2="527.28" y2="475.00" stroke="#111" stroke-width="0.6" />
<circle cx="525.68" cy="487.00" r="0.95" fill="#111" stroke="none" stroke-width="1" />
<line x1="524.08" y1="487.00" x2="527.28" y2="487.00" stroke="#111" stroke-width="0.6" />
<circle cx="525.68" cy="492.00" r="0.95" fill="#111" stroke="none" stroke-width="1" />
<line x1="524.08" y1="492.00" x2="527.28" y2="492.00" stroke="#111" stroke-width="0.6" />
<line x1="518.08" y1="516.40" x2="518.08" y2="519.20" stroke="#333" stroke-width="1" />
<text x="0" y="0" font-size="10.4" text-anchor="end" fill="#222" transform="translate(521.88,525.60) rotate(-45)" stroke="#222" stroke-width="0.13">ER4</text>
<path d="M541.76,465.00 L542.60,468.93 L542.60,472.87 L541.60,476.80 L541.40,480.73 L542.00,484.67 L542.80,488.60 L543.20,492.53 L542.80,496.47 L541.90,500.40 L537.30,500.40 L536.40,496.47 L536.00,492.53 L536.40,488.60 L537.20,484.67 L537.80,480.73 L537.60,476.80 L536.60,472.87 L536.60,468.93 L537.44,465.00 Z" fill="#fff" stroke="#222" stroke-width="0.75" stroke-linejoin="round"/>
<line x1="536.60" y1="469.25" x2="542.60" y2="469.25" stroke="#111" stroke-width="0.7" />
<line x1="536.37" y1="496.15" x2="542.83" y2="496.15" stroke="#111" stroke-width="0.7" />
<line x1="536.52" y1="488.00" x2="542.68" y2="488.00" stroke="#111" stroke-width="1.2" />
<circle cx="539.60" cy="466.00" r="0.95" fill="#111" stroke="none" stroke-width="1" />
<line x1="538.00" y1="466.00" x2="541.20" y2="466.00" stroke="#111" stroke-width="0.6" />
<circle cx="539.60" cy="478.00" r="0.95" fill="#111" stroke="none" stroke-width="1" />
<line x1="538.00" y1="478.00" x2="541.20" y2="478.00" stroke="#111" stroke-width="0.6" />
<circle cx="539.60" cy="499.00" r="0.95" fill="#111" stroke="none" stroke-width="1" />
<line x1="538.00" y1="499.00" x2="541.20" y2="499.00" stroke="#111" stroke-width="0.6" />
<path d="M548.00,481.00 L548.20,484.67 L548.60,488.33 L549.00,492.00 L549.60,495.67 L550.20,499.33 L550.80,503.00 L551.00,506.67 L550.40,510.33 L549.50,514.00 L544.90,514.00 L544.00,510.33 L543.40,506.67 L543.60,503.00 L544.20,499.33 L544.80,495.67 L545.40,492.00 L545.80,488.33 L546.20,484.67 L546.40,481.00 Z" fill="#a6a6a8" stroke="#222" stroke-width="0.75" stroke-linejoin="round"/>
<line x1="546.17" y1="484.96" x2="548.23" y2="484.96" stroke="#111" stroke-width="0.7" />
<line x1="543.95" y1="510.04" x2="550.45" y2="510.04" stroke="#111" stroke-width="0.7" />
<line x1="543.49" y1="505.00" x2="550.91" y2="505.00" stroke="#111" stroke-width="1.2" />
<circle cx="547.20" cy="482.00" r="0.95" fill="#111" stroke="none" stroke-width="1" />
<line x1="545.60" y1="482.00" x2="548.80" y2="482.00" stroke="#111" stroke-width="0.6" />
<circle cx="547.20" cy="503.00" r="0.95" fill="#111" stroke="none" stroke-width="1" />
<line x1="545.60" y1="503.00" x2="548.80" y2="503.00" stroke="#111" stroke-width="0.6" />
<circle cx="547.20" cy="512.00" r="0.95" fill="#111" stroke="none" stroke-width="1" />
<line x1="545.60" y1="512.00" x2="548.80" y2="512.00" stroke="#111" stroke-width="0.6" />
<path d="M556.82,480.40 L557.60,482.36 L558.00,484.31 L557.60,486.27 L557.40,488.22 L557.60,490.18 L558.20,492.13 L558.40,494.09 L557.80,496.04 L556.96,498.00 L552.64,498.00 L551.80,496.04 L551.20,494.09 L551.40,492.13 L552.00,490.18 L552.20,488.22 L552.00,486.27 L551.60,484.31 L552.00,482.36 L552.78,480.40 Z" fill="#1a91aa" stroke="#222" stroke-width="0.75" stroke-linejoin="round"/>
<line x1="551.97" y1="482.51" x2="557.63" y2="482.51" stroke="#111" stroke-width="0.7" />
<line x1="551.75" y1="495.89" x2="557.85" y2="495.89" stroke="#111" stroke-width="0.7" />
<line x1="551.44" y1="492.00" x2="558.16" y2="492.00" stroke="#111" stroke-width="1.2" />
<circle cx="554.80" cy="481.00" r="0.95" fill="#111" stroke="none" stroke-width="1" />
<line x1="553.20" y1="481.00" x2="556.40" y2="481.00" stroke="#111" stroke-width="0.6" />
<circle cx="554.80" cy="492.00" r="0.95" fill="#111" stroke="none" stroke-width="1" />
<line x1="553.20" y1="492.00" x2="556.40" y2="492.00" stroke="#111" stroke-width="0.6" />
<circle cx="554.80" cy="496.00" r="0.95" fill="#111" stroke="none" stroke-width="1" />
<line x1="553.20" y1="496.00" x2="556.40" y2="496.00" stroke="#111" stroke-width="0.6" />
<line x1="547.20" y1="516.40" x2="547.20" y2="519.20" stroke="#333" stroke-width="1" />
<text x="0" y="0" font-size="10.4" text-anchor="end" fill="#222" transform="translate(551.00,525.60) rotate(-45)" stroke="#222" stroke-width="0.13">CAG_241_62_21</text>
<path d="M571.02,467.60 L571.92,471.38 L571.52,475.16 L571.32,478.93 L571.92,482.71 L572.12,486.49 L571.72,490.27 L571.32,494.04 L571.52,497.82 L570.74,501.60 L566.70,501.60 L565.92,497.82 L566.12,494.04 L565.72,490.27 L565.32,486.49 L565.52,482.71 L566.12,478.93 L565.92,475.16 L565.52,471.38 L566.42,467.60 Z" fill="#fff" stroke="#222" stroke-width="0.75" stroke-linejoin="round"/>
<line x1="565.55" y1="471.68" x2="571.89" y2="471.68" stroke="#111" stroke-width="0.7" />
<line x1="565.94" y1="497.52" x2="571.50" y2="497.52" stroke="#111" stroke-width="0.7" />
<line x1="565.45" y1="484.00" x2="571.99" y2="484.00" stroke="#111" stroke-width="1.2" />
<circle cx="568.72" cy="469.00" r="0.95" fill="#111" stroke="none" stroke-width="1" />
<line x1="567.12" y1="469.00" x2="570.32" y2="469.00" stroke="#111" stroke-width="0.6" />
<circle cx="568.72" cy="480.00" r="0.95" fill="#111" stroke="none" stroke-width="1" />
<line x1="567.12" y1="480.00" x2="570.32" y2="480.00" stroke="#111" stroke-width="0.6" />
<circle cx="568.72" cy="492.00" r="0.95" fill="#111" stroke="none" stroke-width="1" />
<line x1="567.12" y1="492.00" x2="570.32" y2="492.00" stroke="#111" stroke-width="0.6" />
<path d="M578.77,484.00 L579.72,487.44 L579.92,490.89 L579.52,494.33 L578.92,497.78 L578.92,501.22 L579.52,504.67 L579.92,508.11 L579.32,511.56 L578.48,515.00 L574.16,515.00 L573.32,511.56 L572.72,508.11 L573.12,504.67 L573.72,501.22 L573.72,497.78 L573.12,494.33 L572.72,490.89 L572.92,487.44 L573.87,484.00 Z" fill="#a6a6a8" stroke="#222" stroke-width="0.75" stroke-linejoin="round"/>
<line x1="572.90" y1="487.72" x2="579.74" y2="487.72" stroke="#111" stroke-width="0.7" />
<line x1="573.27" y1="511.28" x2="579.37" y2="511.28" stroke="#111" stroke-width="0.7" />
<line x1="573.41" y1="503.00" x2="579.23" y2="503.00" stroke="#111" stroke-width="1.2" />
<circle cx="576.32" cy="485.00" r="0.95" fill="#111" stroke="none" stroke-width="1" />
<line x1="574.72" y1="485.00" x2="577.92" y2="485.00" stroke="#111" stroke-width="0.6" />
<circle cx="576.32" cy="498.00" r="0.95" fill="#111" stroke="none" stroke-width="1" />
<line x1="574.72" y1="498.00" x2="577.92" y2="498.00" stroke="#111" stroke-width="0.6" />
<circle cx="576.32" cy="514.00" r="0.95" fill="#111" stroke="none" stroke-width="1" />
<line x1="574.72" y1="514.00" x2="577.92" y2="514.00" stroke="#111" stroke-width="0.6" />
<path d="M586.37,469.40 L587.32,471.58 L587.52,473.76 L587.12,475.93 L587.12,478.11 L587.32,480.29 L587.52,482.47 L587.52,484.64 L586.92,486.82 L586.08,489.00 L581.76,489.00 L580.92,486.82 L580.32,484.64 L580.32,482.47 L580.52,480.29 L580.72,478.11 L580.72,475.93 L580.32,473.76 L580.52,471.58 L581.47,469.40 Z" fill="#1a91aa" stroke="#222" stroke-width="0.75" stroke-linejoin="round"/>
<line x1="580.50" y1="471.75" x2="587.34" y2="471.75" stroke="#111" stroke-width="0.7" />
<line x1="580.87" y1="486.65" x2="586.97" y2="486.65" stroke="#111" stroke-width="0.7" />
<line x1="580.68" y1="478.50" x2="587.16" y2="478.50" stroke="#111" stroke-width="1.2" />
<circle cx="583.92" cy="470.00" r="0.95" fill="#111" stroke="none" stroke-width="1" />
<line x1="582.32" y1="470.00" x2="585.52" y2="470.00" stroke="#111" stroke-width="0.6" />
<circle cx="583.92" cy="477.00" r="0.95" fill="#111" stroke="none" stroke-width="1" />
<line x1="582.32" y1="477.00" x2="585.52" y2="477.00" stroke="#111" stroke-width="0.6" />
<circle cx="583.92" cy="484.00" r="0.95" fill="#111" stroke="none" stroke-width="1" />
<line x1="582.32" y1="484.00" x2="585.52" y2="484.00" stroke="#111" stroke-width="0.6" />
<line x1="576.32" y1="516.40" x2="576.32" y2="519.20" stroke="#333" stroke-width="1" />
<text x="0" y="0" font-size="10.4" text-anchor="end" fill="#222" transform="translate(580.12,525.60) rotate(-45)" stroke="#222" stroke-width="0.13">CAG_241</text>
<path d="M600.00,462.40 L600.84,466.58 L600.24,470.76 L600.04,474.93 L600.64,479.11 L601.24,483.29 L600.84,487.47 L600.24,491.64 L600.44,495.82 L599.71,500.00 L595.97,500.00 L595.24,495.82 L595.44,491.64 L594.84,487.47 L594.44,483.29 L595.04,479.11 L595.64,474.93 L595.44,470.76 L594.84,466.58 L595.68,462.40 Z" fill="#fff" stroke="#222" stroke-width="0.75" stroke-linejoin="round"/>
<line x1="594.89" y1="466.91" x2="600.79" y2="466.91" stroke="#111" stroke-width="0.7" />
<line x1="595.26" y1="495.49" x2="600.42" y2="495.49" stroke="#111" stroke-width="0.7" />
<line x1="594.51" y1="484.00" x2="601.17" y2="484.00" stroke="#111" stroke-width="1.2" />
<circle cx="597.84" cy="464.00" r="0.95" fill="#111" stroke="none" stroke-width="1" />
<line x1="596.24" y1="464.00" x2="599.44" y2="464.00" stroke="#111" stroke-width="0.6" />
<circle cx="597.84" cy="478.00" r="0.95" fill="#111" stroke="none" stroke-width="1" />
<line x1="596.24" y1="478.00" x2="599.44" y2="478.00" stroke="#111" stroke-width="0.6" />
<circle cx="597.84" cy="498.00" r="0.95" fill="#111" stroke="none" stroke-width="1" />
<line x1="596.24" y1="498.00" x2="599.44" y2="498.00" stroke="#111" stroke-width="0.6" />
<path d="M606.09,492.00 L606.34,494.33 L606.74,496.67 L607.24,499.00 L608.04,501.33 L608.84,503.67 L609.24,506.00 L609.24,508.33 L608.64,510.67 L607.74,513.00 L603.14,513.00 L602.24,510.67 L601.64,508.33 L601.64,506.00 L602.04,503.67 L602.84,501.33 L603.64,499.00 L604.14,496.67 L604.54,494.33 L604.79,492.00 Z" fill="#a6a6a8" stroke="#222" stroke-width="0.75" stroke-linejoin="round"/>
<line x1="604.51" y1="494.52" x2="606.37" y2="494.52" stroke="#111" stroke-width="0.7" />
<line x1="602.19" y1="510.48" x2="608.69" y2="510.48" stroke="#111" stroke-width="0.7" />
<line x1="601.64" y1="506.00" x2="609.24" y2="506.00" stroke="#111" stroke-width="1.2" />
<circle cx="605.44" cy="505.00" r="0.95" fill="#111" stroke="none" stroke-width="1" />
<line x1="603.84" y1="505.00" x2="607.04" y2="505.00" stroke="#111" stroke-width="0.6" />
<circle cx="605.44" cy="512.00" r="0.95" fill="#111" stroke="none" stroke-width="1" />
<line x1="603.84" y1="512.00" x2="607.04" y2="512.00" stroke="#111" stroke-width="0.6" />
<path d="M613.64,476.00 L613.84,478.49 L614.04,480.98 L614.24,483.47 L614.64,485.96 L615.24,488.44 L616.04,490.93 L616.84,493.42 L616.64,495.91 L615.63,498.40 L610.45,498.40 L609.44,495.91 L609.24,493.42 L610.04,490.93 L610.84,488.44 L611.44,485.96 L611.84,483.47 L612.04,480.98 L612.24,478.49 L612.44,476.00 Z" fill="#1a91aa" stroke="#222" stroke-width="0.75" stroke-linejoin="round"/>
<line x1="612.22" y1="478.69" x2="613.86" y2="478.69" stroke="#111" stroke-width="0.7" />
<line x1="609.42" y1="495.71" x2="616.66" y2="495.71" stroke="#111" stroke-width="0.7" />
<line x1="609.29" y1="494.00" x2="616.79" y2="494.00" stroke="#111" stroke-width="1.2" />
<circle cx="613.04" cy="477.00" r="0.95" fill="#111" stroke="none" stroke-width="1" />
<line x1="611.44" y1="477.00" x2="614.64" y2="477.00" stroke="#111" stroke-width="0.6" />
<circle cx="613.04" cy="487.00" r="0.95" fill="#111" stroke="none" stroke-width="1" />
<line x1="611.44" y1="487.00" x2="614.64" y2="487.00" stroke="#111" stroke-width="0.6" />
<circle cx="613.04" cy="496.00" r="0.95" fill="#111" stroke="none" stroke-width="1" />
<line x1="611.44" y1="496.00" x2="614.64" y2="496.00" stroke="#111" stroke-width="0.6" />
<line x1="605.44" y1="516.40" x2="605.44" y2="519.20" stroke="#333" stroke-width="1" />
<text x="0" y="0" font-size="10.4" text-anchor="end" fill="#222" transform="translate(609.24,525.60) rotate(-45)" stroke="#222" stroke-width="0.13">CAG_155</text>
<path d="M628.40,462.40 L628.96,466.76 L628.96,471.11 L629.76,475.47 L630.56,479.82 L630.36,484.18 L629.96,488.53 L629.36,492.89 L629.36,497.24 L628.69,501.60 L625.23,501.60 L624.56,497.24 L624.56,492.89 L623.96,488.53 L623.56,484.18 L623.36,479.82 L624.16,475.47 L624.96,471.11 L624.96,466.76 L625.52,462.40 Z" fill="#fff" stroke="#222" stroke-width="0.75" stroke-linejoin="round"/>
<line x1="624.96" y1="467.10" x2="628.96" y2="467.10" stroke="#111" stroke-width="0.7" />
<line x1="624.56" y1="496.90" x2="629.36" y2="496.90" stroke="#111" stroke-width="0.7" />
<line x1="623.41" y1="481.00" x2="630.51" y2="481.00" stroke="#111" stroke-width="1.2" />
<circle cx="626.96" cy="463.00" r="0.95" fill="#111" stroke="none" stroke-width="1" />
<line x1="625.36" y1="463.00" x2="628.56" y2="463.00" stroke="#111" stroke-width="0.6" />
<circle cx="626.96" cy="478.00" r="0.95" fill="#111" stroke="none" stroke-width="1" />
<line x1="625.36" y1="478.00" x2="628.56" y2="478.00" stroke="#111" stroke-width="0.6" />
<circle cx="626.96" cy="500.00" r="0.95" fill="#111" stroke="none" stroke-width="1" />
<line x1="625.36" y1="500.00" x2="628.56" y2="500.00" stroke="#111" stroke-width="0.6" />
<path d="M635.21,491.60 L635.46,494.02 L635.86,496.44 L636.36,498.87 L637.16,501.29 L637.96,503.71 L638.36,506.13 L638.36,508.56 L637.76,510.98 L636.86,513.40 L632.26,513.40 L631.36,510.98 L630.76,508.56 L630.76,506.13 L631.16,503.71 L631.96,501.29 L632.76,498.87 L633.26,496.44 L633.66,494.02 L633.91,491.60 Z" fill="#a6a6a8" stroke="#222" stroke-width="0.75" stroke-linejoin="round"/>
<line x1="633.63" y1="494.22" x2="635.49" y2="494.22" stroke="#111" stroke-width="0.7" />
<line x1="631.31" y1="510.78" x2="637.81" y2="510.78" stroke="#111" stroke-width="0.7" />
<line x1="630.78" y1="506.00" x2="638.34" y2="506.00" stroke="#111" stroke-width="1.2" />
<circle cx="634.56" cy="505.00" r="0.95" fill="#111" stroke="none" stroke-width="1" />
<line x1="632.96" y1="505.00" x2="636.16" y2="505.00" stroke="#111" stroke-width="0.6" />
<circle cx="634.56" cy="512.00" r="0.95" fill="#111" stroke="none" stroke-width="1" />
<line x1="632.96" y1="512.00" x2="636.16" y2="512.00" stroke="#111" stroke-width="0.6" />
<path d="M642.81,479.00 L643.06,481.11 L643.36,483.22 L643.76,485.33 L644.36,487.44 L645.16,489.56 L645.76,491.67 L645.96,493.78 L645.56,495.89 L644.61,498.00 L639.71,498.00 L638.76,495.89 L638.36,493.78 L638.56,491.67 L639.16,489.56 L639.96,487.44 L640.56,485.33 L640.96,483.22 L641.26,481.11 L641.51,479.00 Z" fill="#1a91aa" stroke="#222" stroke-width="0.75" stroke-linejoin="round"/>
<line x1="641.24" y1="481.28" x2="643.08" y2="481.28" stroke="#111" stroke-width="0.7" />
<line x1="638.73" y1="495.72" x2="645.59" y2="495.72" stroke="#111" stroke-width="0.7" />
<line x1="638.43" y1="493.00" x2="645.89" y2="493.00" stroke="#111" stroke-width="1.2" />
<circle cx="642.16" cy="480.00" r="0.95" fill="#111" stroke="none" stroke-width="1" />
<line x1="640.56" y1="480.00" x2="643.76" y2="480.00" stroke="#111" stroke-width="0.6" />
<circle cx="642.16" cy="489.00" r="0.95" fill="#111" stroke="none" stroke-width="1" />
<line x1="640.56" y1="489.00" x2="643.76" y2="489.00" stroke="#111" stroke-width="0.6" />
<circle cx="642.16" cy="496.00" r="0.95" fill="#111" stroke="none" stroke-width="1" />
<line x1="640.56" y1="496.00" x2="643.76" y2="496.00" stroke="#111" stroke-width="0.6" />
<line x1="634.56" y1="516.40" x2="634.56" y2="519.20" stroke="#333" stroke-width="1" />
<text x="0" y="0" font-size="10.4" text-anchor="end" fill="#222" transform="translate(638.36,525.60) rotate(-45)" stroke="#222" stroke-width="0.13">sp_57_20</text>
<path d="M658.10,469.60 L658.88,472.31 L658.48,475.02 L658.68,477.73 L659.28,480.44 L659.48,483.16 L659.28,485.87 L659.28,488.58 L659.08,491.29 L658.24,494.00 L653.92,494.00 L653.08,491.29 L652.88,488.58 L652.88,485.87 L652.68,483.16 L652.88,480.44 L653.48,477.73 L653.68,475.02 L653.28,472.31 L654.06,469.60 Z" fill="#fff" stroke="#222" stroke-width="0.75" stroke-linejoin="round"/>
<line x1="653.31" y1="472.53" x2="658.85" y2="472.53" stroke="#111" stroke-width="0.7" />
<line x1="653.06" y1="491.07" x2="659.10" y2="491.07" stroke="#111" stroke-width="0.7" />
<line x1="652.82" y1="485.00" x2="659.34" y2="485.00" stroke="#111" stroke-width="1.2" />
<circle cx="656.08" cy="470.50" r="0.95" fill="#111" stroke="none" stroke-width="1" />
<line x1="654.48" y1="470.50" x2="657.68" y2="470.50" stroke="#111" stroke-width="0.6" />
<circle cx="656.08" cy="478.00" r="0.95" fill="#111" stroke="none" stroke-width="1" />
<line x1="654.48" y1="478.00" x2="657.68" y2="478.00" stroke="#111" stroke-width="0.6" />
<circle cx="656.08" cy="492.00" r="0.95" fill="#111" stroke="none" stroke-width="1" />
<line x1="654.48" y1="492.00" x2="657.68" y2="492.00" stroke="#111" stroke-width="0.6" />
<path d="M665.55,485.00 L666.28,487.89 L665.68,490.78 L665.28,493.67 L665.68,496.56 L666.68,499.44 L667.28,502.33 L667.48,505.22 L666.88,508.11 L665.98,511.00 L661.38,511.00 L660.48,508.11 L659.88,505.22 L660.08,502.33 L660.68,499.44 L661.68,496.56 L662.08,493.67 L661.68,490.78 L661.08,487.89 L661.81,485.00 Z" fill="#a6a6a8" stroke="#222" stroke-width="0.75" stroke-linejoin="round"/>
<line x1="661.13" y1="488.12" x2="666.23" y2="488.12" stroke="#111" stroke-width="0.7" />
<line x1="660.43" y1="507.88" x2="666.93" y2="507.88" stroke="#111" stroke-width="0.7" />
<line x1="659.96" y1="504.00" x2="667.40" y2="504.00" stroke="#111" stroke-width="1.2" />
<circle cx="663.68" cy="486.00" r="0.95" fill="#111" stroke="none" stroke-width="1" />
<line x1="662.08" y1="486.00" x2="665.28" y2="486.00" stroke="#111" stroke-width="0.6" />
<circle cx="663.68" cy="504.00" r="0.95" fill="#111" stroke="none" stroke-width="1" />
<line x1="662.08" y1="504.00" x2="665.28" y2="504.00" stroke="#111" stroke-width="0.6" />
<circle cx="663.68" cy="509.00" r="0.95" fill="#111" stroke="none" stroke-width="1" />
<line x1="662.08" y1="509.00" x2="665.28" y2="509.00" stroke="#111" stroke-width="0.6" />
<path d="M673.58,474.40 L674.48,476.58 L673.68,478.76 L672.68,480.93 L672.68,483.11 L673.48,485.29 L674.48,487.47 L674.88,489.64 L674.28,491.82 L673.44,494.00 L669.12,494.00 L668.28,491.82 L667.68,489.64 L668.08,487.47 L669.08,485.29 L669.88,483.11 L669.88,480.93 L668.88,478.76 L668.08,476.58 L668.98,474.40 Z" fill="#1a91aa" stroke="#222" stroke-width="0.75" stroke-linejoin="round"/>
<line x1="668.14" y1="476.75" x2="674.42" y2="476.75" stroke="#111" stroke-width="0.7" />
<line x1="668.23" y1="491.65" x2="674.33" y2="491.65" stroke="#111" stroke-width="0.7" />
<line x1="667.80" y1="489.00" x2="674.76" y2="489.00" stroke="#111" stroke-width="1.2" />
<circle cx="671.28" cy="475.00" r="0.95" fill="#111" stroke="none" stroke-width="1" />
<line x1="669.68" y1="475.00" x2="672.88" y2="475.00" stroke="#111" stroke-width="0.6" />
<circle cx="671.28" cy="486.00" r="0.95" fill="#111" stroke="none" stroke-width="1" />
<line x1="669.68" y1="486.00" x2="672.88" y2="486.00" stroke="#111" stroke-width="0.6" />
<circle cx="671.28" cy="492.00" r="0.95" fill="#111" stroke="none" stroke-width="1" />
<line x1="669.68" y1="492.00" x2="672.88" y2="492.00" stroke="#111" stroke-width="0.6" />
<line x1="663.68" y1="516.40" x2="663.68" y2="519.20" stroke="#333" stroke-width="1" />
<text x="0" y="0" font-size="10.4" text-anchor="end" fill="#222" transform="translate(667.48,525.60) rotate(-45)" stroke="#222" stroke-width="0.13">sp_1_3</text>
<text x="399.20" y="461.20" font-size="6.9" text-anchor="middle" fill="#444" stroke="#444" stroke-width="0.1"><tspan font-style="italic">P</tspan>=0.08</text>
<line x1="392.00" y1="463.40" x2="405.70" y2="463.40" stroke="#222" stroke-width="1.5" />
<text x="425.80" y="458.00" font-size="6.9" text-anchor="middle" fill="#444" stroke="#444" stroke-width="0.1"><tspan font-style="italic">P</tspan>=0.03</text>
<line x1="420.40" y1="460.20" x2="431.20" y2="460.20" stroke="#222" stroke-width="1.5" />
<text x="436.70" y="472.10" font-size="6.9" text-anchor="middle" fill="#444" stroke="#444" stroke-width="0.1"><tspan font-style="italic">P</tspan>=0.05</text>
<line x1="429.00" y1="474.30" x2="440.00" y2="474.30" stroke="#222" stroke-width="1.5" />
<text x="456.00" y="457.60" font-size="6.9" text-anchor="middle" fill="#444" stroke="#444" stroke-width="0.1"><tspan font-style="italic">P</tspan>=0.008</text>
<line x1="449.00" y1="459.80" x2="459.40" y2="459.80" stroke="#222" stroke-width="1.5" />
<text x="466.00" y="472.00" font-size="6.9" text-anchor="middle" fill="#444" stroke="#444" stroke-width="0.1"><tspan font-style="italic">P</tspan>=0.04</text>
<line x1="459.40" y1="474.20" x2="470.00" y2="474.20" stroke="#222" stroke-width="1.5" />
<text x="484.40" y="457.60" font-size="6.9" text-anchor="middle" fill="#444" stroke="#444" stroke-width="0.1"><tspan font-style="italic">P</tspan>=0.04</text>
<line x1="479.00" y1="459.80" x2="489.60" y2="459.80" stroke="#222" stroke-width="1.5" />
<text x="515.60" y="466.20" font-size="6.9" text-anchor="middle" fill="#444" stroke="#444" stroke-width="0.1"><tspan font-style="italic">P</tspan>=0.08</text>
<line x1="507.00" y1="468.40" x2="521.60" y2="468.40" stroke="#222" stroke-width="1.5" />
<text x="580.00" y="464.20" font-size="6.9" text-anchor="middle" fill="#444" stroke="#444" stroke-width="0.1"><tspan font-style="italic">P</tspan>=0.02</text>
<line x1="576.00" y1="466.40" x2="586.40" y2="466.40" stroke="#222" stroke-width="1.5" />
<text x="602.40" y="457.00" font-size="6.9" text-anchor="middle" fill="#444" stroke="#444" stroke-width="0.1"><tspan font-style="italic">P</tspan>=0.01</text>
<line x1="597.00" y1="459.20" x2="608.00" y2="459.20" stroke="#222" stroke-width="1.5" />
<text x="610.40" y="471.60" font-size="6.9" text-anchor="middle" fill="#444" stroke="#444" stroke-width="0.1"><tspan font-style="italic">P</tspan>=0.09</text>
<line x1="603.40" y1="473.80" x2="614.60" y2="473.80" stroke="#222" stroke-width="1.5" />
<text x="629.60" y="457.00" font-size="6.9" text-anchor="middle" fill="#444" stroke="#444" stroke-width="0.1"><tspan font-style="italic">P</tspan>=0.008</text>
<line x1="625.00" y1="459.20" x2="636.00" y2="459.20" stroke="#222" stroke-width="1.5" />
<text x="641.60" y="472.20" font-size="6.9" text-anchor="middle" fill="#444" stroke="#444" stroke-width="0.1"><tspan font-style="italic">P</tspan>=0.09</text>
<line x1="632.00" y1="474.40" x2="646.00" y2="474.40" stroke="#222" stroke-width="1.5" />
<text x="660.00" y="463.60" font-size="6.9" text-anchor="middle" fill="#444" stroke="#444" stroke-width="0.1"><tspan font-style="italic">P</tspan>=0.08</text>
<line x1="654.00" y1="465.80" x2="666.00" y2="465.80" stroke="#222" stroke-width="1.5" />
<text x="325.20" y="592.00" font-size="16.5" text-anchor="start" fill="#111" font-weight="bold" font-style="normal" >i</text>
<text x="350.9" y="601.3" font-size="10.4" fill="#222" stroke="#222" stroke-width="0.13"><tspan font-style="italic">Oscillibacter</tspan> genus</text>
<line x1="370.00" y1="630.70" x2="370.00" y2="698.80" stroke="#333" stroke-width="1" />
<line x1="370.00" y1="698.30" x2="423.30" y2="698.30" stroke="#333" stroke-width="1" />
<line x1="367.40" y1="698.30" x2="370.00" y2="698.30" stroke="#333" stroke-width="1" />
<text x="363.70" y="702.30" font-size="10.6" text-anchor="end" fill="#222" font-weight="normal" font-style="normal"  stroke="#222" stroke-width="0.13">0</text>
<line x1="367.40" y1="671.15" x2="370.00" y2="671.15" stroke="#333" stroke-width="1" />
<text x="363.70" y="675.15" font-size="10.6" text-anchor="end" fill="#222" font-weight="normal" font-style="normal"  stroke="#222" stroke-width="0.13">1</text>
<line x1="367.40" y1="644.00" x2="370.00" y2="644.00" stroke="#333" stroke-width="1" />
<text x="363.70" y="648.00" font-size="10.6" text-anchor="end" fill="#222" font-weight="normal" font-style="normal"  stroke="#222" stroke-width="0.13">2</text>
<line x1="368.50" y1="684.72" x2="370.00" y2="684.72" stroke="#333" stroke-width="1" />
<line x1="368.50" y1="657.57" x2="370.00" y2="657.57" stroke="#333" stroke-width="1" />
<line x1="368.50" y1="630.42" x2="370.00" y2="630.42" stroke="#333" stroke-width="1" />
<text x="0" y="0" font-size="10.4" text-anchor="middle" fill="#222" transform="translate(350.8,665) rotate(-90)" stroke="#222" stroke-width="0.13">Abundance (%)</text>
<line x1="380.40" y1="636.00" x2="380.40" y2="643.50" stroke="#222" stroke-width="0.9" />
<line x1="380.40" y1="672.00" x2="380.40" y2="672.00" stroke="#222" stroke-width="0.9" />
<line x1="378.40" y1="636.00" x2="382.40" y2="636.00" stroke="#222" stroke-width="0.9" />
<line x1="378.40" y1="672.00" x2="382.40" y2="672.00" stroke="#222" stroke-width="0.9" />
<rect x="374.30" y="643.50" width="12.20" height="28.50" fill="#fff" stroke="#222" stroke-width="0.9" />
<line x1="374.30" y1="656.00" x2="386.50" y2="656.00" stroke="#222" stroke-width="0.9" />
<circle cx="380.50" cy="636.50" r="1.70" fill="none" stroke="#333" stroke-width="0.8" />
<circle cx="380.50" cy="650.00" r="1.70" fill="none" stroke="#333" stroke-width="0.8" />
<circle cx="380.50" cy="656.80" r="1.70" fill="none" stroke="#333" stroke-width="0.8" />
<circle cx="376.00" cy="672.00" r="1.70" fill="none" stroke="#333" stroke-width="0.8" />
<circle cx="383.00" cy="672.00" r="1.70" fill="none" stroke="#333" stroke-width="0.8" />
<line x1="396.80" y1="665.90" x2="396.80" y2="669.50" stroke="#222" stroke-width="0.9" />
<line x1="396.80" y1="688.70" x2="396.80" y2="691.40" stroke="#222" stroke-width="0.9" />
<line x1="394.80" y1="665.90" x2="398.80" y2="665.90" stroke="#222" stroke-width="0.9" />
<line x1="394.80" y1="691.40" x2="398.80" y2="691.40" stroke="#222" stroke-width="0.9" />
<rect x="390.70" y="669.50" width="12.20" height="19.20" fill="#d0d0d0" stroke="#222" stroke-width="0.9" />
<line x1="390.70" y1="683.30" x2="402.90" y2="683.30" stroke="#222" stroke-width="0.9" />
<circle cx="396.70" cy="666.00" r="1.70" fill="none" stroke="#333" stroke-width="0.8" />
<circle cx="396.70" cy="675.00" r="1.70" fill="none" stroke="#333" stroke-width="0.8" />
<circle cx="393.60" cy="683.30" r="1.70" fill="none" stroke="#333" stroke-width="0.8" />
<circle cx="399.80" cy="685.00" r="1.70" fill="none" stroke="#333" stroke-width="0.8" />
<circle cx="396.70" cy="691.00" r="1.70" fill="none" stroke="#333" stroke-width="0.8" />
<line x1="413.30" y1="652.00" x2="413.30" y2="655.00" stroke="#222" stroke-width="0.9" />
<line x1="413.30" y1="668.00" x2="413.30" y2="672.70" stroke="#222" stroke-width="0.9" />
<line x1="411.30" y1="652.00" x2="415.30" y2="652.00" stroke="#222" stroke-width="0.9" />
<line x1="411.30" y1="672.70" x2="415.30" y2="672.70" stroke="#222" stroke-width="0.9" />
<rect x="407.10" y="655.00" width="12.40" height="13.00" fill="#1a91aa" stroke="#222" stroke-width="0.9" />
<line x1="407.10" y1="659.30" x2="419.50" y2="659.30" stroke="#222" stroke-width="0.9" />
<circle cx="413.30" cy="652.50" r="1.70" fill="none" stroke="#333" stroke-width="0.8" />
<circle cx="413.30" cy="658.00" r="1.70" fill="none" stroke="#333" stroke-width="0.8" />
<circle cx="413.30" cy="663.00" r="1.70" fill="none" stroke="#333" stroke-width="0.8" />
<circle cx="413.30" cy="672.50" r="1.70" fill="none" stroke="#333" stroke-width="0.8" />
<line x1="380.50" y1="698.30" x2="380.50" y2="701.00" stroke="#333" stroke-width="1" />
<line x1="396.70" y1="698.30" x2="396.70" y2="701.00" stroke="#333" stroke-width="1" />
<line x1="413.10" y1="698.30" x2="413.10" y2="701.00" stroke="#333" stroke-width="1" />
<text x="0" y="0" font-size="10.4" text-anchor="end" fill="#222" transform="translate(382.70,707.40) rotate(-45)" stroke="#222" stroke-width="0.13">Veh</text>
<text x="0" y="0" font-size="10.4" text-anchor="end" fill="#222" transform="translate(398.90,707.40) rotate(-45)" stroke="#222" stroke-width="0.13">Veh</text>
<text x="0" y="0" font-size="10.4" text-anchor="end" fill="#1a8ca8" transform="translate(415.30,707.40) rotate(-45)" stroke="#1a8ca8" stroke-width="0.13">Cap</text>
<text x="385.8" y="627.3" font-size="7.0" text-anchor="middle" fill="#444" stroke="#444" stroke-width="0.1"><tspan font-style="italic">P</tspan>=0.02</text>
<line x1="373.70" y1="629.60" x2="397.50" y2="629.60" stroke="#333" stroke-width="1.1" />
<text x="409.3" y="643.9" font-size="7.0" text-anchor="middle" fill="#444" stroke="#444" stroke-width="0.1"><tspan font-style="italic">P</tspan>=0.05</text>
<line x1="397.80" y1="647.30" x2="420.60" y2="647.30" stroke="#666" stroke-width="1.1" />
<line x1="363.70" y1="723.20" x2="379.40" y2="723.20" stroke="#222" stroke-width="1.1" />
<line x1="383.30" y1="723.20" x2="417.00" y2="723.20" stroke="#222" stroke-width="1.1" />
<text x="371.50" y="736.20" font-size="10.4" text-anchor="middle" fill="#222" font-weight="normal" font-style="normal"  stroke="#222" stroke-width="0.13">WT</text>
<text x="402.40" y="736.20" font-size="10.4" text-anchor="middle" fill="#222" font-weight="normal" font-style="normal"  stroke="#222" stroke-width="0.13">5xFAD</text>
<text x="459.00" y="592.60" font-size="16.5" text-anchor="start" fill="#111" font-weight="bold" font-style="normal" >j</text>
<circle cx="483.80" cy="597.50" r="3.60" fill="#fff" stroke="#222" stroke-width="1" />
<text x="490.20" y="601.30" font-size="10.4" text-anchor="start" fill="#222" font-weight="normal" font-style="normal"  stroke="#222" stroke-width="0.13">WT+Veh</text>
<circle cx="544.90" cy="597.50" r="3.90" fill="#8a8a8a" stroke="#666" stroke-width="0.8" />
<text x="552.00" y="601.30" font-size="10.4" text-anchor="start" fill="#9a9a9a" font-weight="normal" font-style="normal"  stroke="#9a9a9a" stroke-width="0.13">5xFAD+Veh</text>
<circle cx="621.50" cy="597.50" r="3.90" fill="#6cc0d0" stroke="#9ad" stroke-width="0.5" />
<text x="628.50" y="601.30" font-size="10.4" text-anchor="start" fill="#1a8ca8" font-weight="normal" font-style="normal"  stroke="#1a8ca8" stroke-width="0.13">5xFAD+Cap</text>
<text x="487" y="620.5" font-size="10" fill="#222" stroke="#222" stroke-width="0.13"><tspan font-style="italic">P</tspan> &lt; 0.01, <tspan font-style="italic">R</tspan><tspan font-size="6.5" dy="-3.5">2</tspan><tspan dy="3.5"> = 0.49</tspan></text>
<text x="601.3" y="620.5" font-size="10" fill="#222" stroke="#222" stroke-width="0.13"><tspan font-style="italic">P</tspan> = 0.02, <tspan font-style="italic">R</tspan><tspan font-size="6.5" dy="-3.5">2</tspan><tspan dy="3.5"> = 0.37</tspan></text>
<line x1="487.40" y1="627.30" x2="557.30" y2="627.30" stroke="#e4e4e4" stroke-width="0.8" />
<line x1="487.40" y1="645.00" x2="557.30" y2="645.00" stroke="#e4e4e4" stroke-width="0.8" />
<line x1="487.40" y1="662.75" x2="557.30" y2="662.75" stroke="#e4e4e4" stroke-width="0.8" />
<line x1="487.40" y1="680.50" x2="557.30" y2="680.50" stroke="#e4e4e4" stroke-width="0.8" />
<line x1="515.40" y1="627.30" x2="515.40" y2="698.30" stroke="#e4e4e4" stroke-width="0.8" />
<line x1="543.40" y1="627.30" x2="543.40" y2="698.30" stroke="#e4e4e4" stroke-width="0.8" />
<path d="M490,646 L508,652 L530,663 L556,679 L556,688 L530,675 L508,663 L490,658 Z" fill="#ececec" stroke="none" stroke-width="1" fill-opacity="0.9"/>
<line x1="494.40" y1="653.50" x2="552.00" y2="680.10" stroke="#222" stroke-width="1.1" />
<circle cx="494.40" cy="657.10" r="2.45" fill="#7c7c7c" stroke="#5a5a5a" stroke-width="0.6" fill-opacity="0.92"/>
<circle cx="501.50" cy="652.40" r="2.45" fill="#7c7c7c" stroke="#5a5a5a" stroke-width="0.6" fill-opacity="0.92"/>
<circle cx="503.00" cy="641.20" r="2.45" fill="#7c7c7c" stroke="#5a5a5a" stroke-width="0.6" fill-opacity="0.92"/>
<circle cx="514.20" cy="658.80" r="2.45" fill="#7c7c7c" stroke="#5a5a5a" stroke-width="0.6" fill-opacity="0.92"/>
<circle cx="514.70" cy="661.00" r="2.45" fill="#7c7c7c" stroke="#5a5a5a" stroke-width="0.6" fill-opacity="0.92"/>
<circle cx="520.60" cy="667.40" r="2.45" fill="#7c7c7c" stroke="#5a5a5a" stroke-width="0.6" fill-opacity="0.92"/>
<circle cx="515.70" cy="676.50" r="2.30" fill="#fff" stroke="#333" stroke-width="0.8" />
<circle cx="530.60" cy="680.10" r="2.30" fill="#fff" stroke="#333" stroke-width="0.8" />
<circle cx="536.40" cy="673.80" r="2.30" fill="#fff" stroke="#333" stroke-width="0.8" />
<circle cx="551.50" cy="675.50" r="2.30" fill="#fff" stroke="#333" stroke-width="0.8" />
<circle cx="514.70" cy="669.00" r="2.45" fill="#6cc0d0" stroke="#5ab0c2" stroke-width="0.4" fill-opacity="0.95"/>
<circle cx="522.10" cy="666.30" r="2.45" fill="#6cc0d0" stroke="#5ab0c2" stroke-width="0.4" fill-opacity="0.95"/>
<circle cx="527.90" cy="671.60" r="2.45" fill="#6cc0d0" stroke="#5ab0c2" stroke-width="0.4" fill-opacity="0.95"/>
<circle cx="530.60" cy="662.00" r="2.45" fill="#6cc0d0" stroke="#5ab0c2" stroke-width="0.4" fill-opacity="0.95"/>
<circle cx="534.50" cy="667.80" r="2.45" fill="#6cc0d0" stroke="#5ab0c2" stroke-width="0.4" fill-opacity="0.95"/>
<line x1="487.40" y1="627.30" x2="487.40" y2="698.80" stroke="#333" stroke-width="1" />
<line x1="487.40" y1="698.30" x2="557.30" y2="698.30" stroke="#333" stroke-width="1" />
<line x1="487.40" y1="698.30" x2="487.40" y2="701.30" stroke="#333" stroke-width="1" />
<line x1="501.40" y1="698.30" x2="501.40" y2="700.30" stroke="#333" stroke-width="1" />
<line x1="515.40" y1="698.30" x2="515.40" y2="701.30" stroke="#333" stroke-width="1" />
<line x1="529.40" y1="698.30" x2="529.40" y2="700.30" stroke="#333" stroke-width="1" />
<line x1="543.40" y1="698.30" x2="543.40" y2="701.30" stroke="#333" stroke-width="1" />
<line x1="484.40" y1="627.30" x2="487.40" y2="627.30" stroke="#333" stroke-width="1" />
<text x="484.40" y="631.30" font-size="10.6" text-anchor="end" fill="#222" font-weight="normal" font-style="normal"  stroke="#222" stroke-width="0.13">80</text>
<line x1="484.40" y1="645.00" x2="487.40" y2="645.00" stroke="#333" stroke-width="1" />
<text x="484.40" y="649.00" font-size="10.6" text-anchor="end" fill="#222" font-weight="normal" font-style="normal"  stroke="#222" stroke-width="0.13">60</text>
<line x1="484.40" y1="662.75" x2="487.40" y2="662.75" stroke="#333" stroke-width="1" />
<text x="484.40" y="666.75" font-size="10.6" text-anchor="end" fill="#222" font-weight="normal" font-style="normal"  stroke="#222" stroke-width="0.13">40</text>
<line x1="484.40" y1="680.50" x2="487.40" y2="680.50" stroke="#333" stroke-width="1" />
<text x="484.40" y="684.50" font-size="10.6" text-anchor="end" fill="#222" font-weight="normal" font-style="normal"  stroke="#222" stroke-width="0.13">20</text>
<line x1="484.40" y1="698.30" x2="487.40" y2="698.30" stroke="#333" stroke-width="1" />
<text x="484.40" y="702.30" font-size="10.6" text-anchor="end" fill="#222" font-weight="normal" font-style="normal"  stroke="#222" stroke-width="0.13">0</text>
<text x="487.40" y="712.00" font-size="10.6" text-anchor="middle" fill="#222" font-weight="normal" font-style="normal"  stroke="#222" stroke-width="0.13">0</text>
<text x="515.40" y="712.00" font-size="10.6" text-anchor="middle" fill="#222" font-weight="normal" font-style="normal"  stroke="#222" stroke-width="0.13">1</text>
<text x="543.40" y="712.00" font-size="10.6" text-anchor="middle" fill="#222" font-weight="normal" font-style="normal"  stroke="#222" stroke-width="0.13">2</text>
<text x="0" y="0" font-size="10.6" text-anchor="middle" fill="#222" transform="translate(467.80,663.00) rotate(-90)" stroke="#222" stroke-width="0.13">Cholesterol (ng/mL)</text>
<line x1="606.60" y1="639.70" x2="676.90" y2="639.70" stroke="#e4e4e4" stroke-width="0.8" />
<line x1="606.60" y1="653.00" x2="676.90" y2="653.00" stroke="#e4e4e4" stroke-width="0.8" />
<line x1="606.60" y1="666.10" x2="676.90" y2="666.10" stroke="#e4e4e4" stroke-width="0.8" />
<line x1="606.60" y1="679.30" x2="676.90" y2="679.30" stroke="#e4e4e4" stroke-width="0.8" />
<line x1="606.60" y1="692.50" x2="676.90" y2="692.50" stroke="#e4e4e4" stroke-width="0.8" />
<line x1="634.60" y1="626.50" x2="634.60" y2="696.10" stroke="#e4e4e4" stroke-width="0.8" />
<line x1="662.60" y1="626.50" x2="662.60" y2="696.10" stroke="#e4e4e4" stroke-width="0.8" />
<path d="M612,690 L630,675 L650,658 L673,637 L673,662 L650,667 L630,672 L612,675 Z" fill="#ececec" stroke="none" stroke-width="1" fill-opacity="0.9"/>
<line x1="614.00" y1="681.20" x2="671.20" y2="650.30" stroke="#222" stroke-width="1.1" />
<circle cx="613.60" cy="677.60" r="2.45" fill="#7c7c7c" stroke="#5a5a5a" stroke-width="0.6" fill-opacity="0.92"/>
<circle cx="620.40" cy="677.00" r="2.45" fill="#7c7c7c" stroke="#5a5a5a" stroke-width="0.6" fill-opacity="0.92"/>
<circle cx="622.20" cy="685.00" r="2.45" fill="#7c7c7c" stroke="#5a5a5a" stroke-width="0.6" fill-opacity="0.92"/>
<circle cx="633.20" cy="689.30" r="2.45" fill="#7c7c7c" stroke="#5a5a5a" stroke-width="0.6" fill-opacity="0.92"/>
<circle cx="640.00" cy="685.90" r="2.45" fill="#7c7c7c" stroke="#5a5a5a" stroke-width="0.6" fill-opacity="0.92"/>
<circle cx="634.30" cy="661.60" r="2.30" fill="#fff" stroke="#333" stroke-width="0.8" />
<circle cx="633.20" cy="667.80" r="2.30" fill="#fff" stroke="#333" stroke-width="0.8" />
<circle cx="649.90" cy="660.00" r="2.30" fill="#fff" stroke="#333" stroke-width="0.8" />
<circle cx="656.20" cy="639.20" r="2.30" fill="#fff" stroke="#333" stroke-width="0.8" />
<circle cx="671.00" cy="667.00" r="2.30" fill="#fff" stroke="#333" stroke-width="0.8" />
<circle cx="633.20" cy="665.20" r="2.45" fill="#6cc0d0" stroke="#5ab0c2" stroke-width="0.4" fill-opacity="0.95"/>
<circle cx="641.30" cy="661.40" r="2.45" fill="#6cc0d0" stroke="#5ab0c2" stroke-width="0.4" fill-opacity="0.95"/>
<circle cx="647.10" cy="661.60" r="2.45" fill="#6cc0d0" stroke="#5ab0c2" stroke-width="0.4" fill-opacity="0.95"/>
<circle cx="650.30" cy="651.80" r="2.45" fill="#6cc0d0" stroke="#5ab0c2" stroke-width="0.4" fill-opacity="0.95"/>
<circle cx="653.90" cy="658.40" r="2.45" fill="#6cc0d0" stroke="#5ab0c2" stroke-width="0.4" fill-opacity="0.95"/>
<line x1="606.60" y1="626.50" x2="606.60" y2="696.60" stroke="#333" stroke-width="1" />
<line x1="606.60" y1="696.10" x2="676.90" y2="696.10" stroke="#333" stroke-width="1" />
<line x1="606.60" y1="696.10" x2="606.60" y2="699.10" stroke="#333" stroke-width="1" />
<line x1="620.60" y1="696.10" x2="620.60" y2="698.10" stroke="#333" stroke-width="1" />
<line x1="634.60" y1="696.10" x2="634.60" y2="699.10" stroke="#333" stroke-width="1" />
<line x1="648.60" y1="696.10" x2="648.60" y2="698.10" stroke="#333" stroke-width="1" />
<line x1="662.60" y1="696.10" x2="662.60" y2="699.10" stroke="#333" stroke-width="1" />
<line x1="603.60" y1="639.70" x2="606.60" y2="639.70" stroke="#333" stroke-width="1" />
<text x="603.60" y="643.70" font-size="10.6" text-anchor="end" fill="#222" font-weight="normal" font-style="normal"  stroke="#222" stroke-width="0.13">40</text>
<line x1="603.60" y1="666.10" x2="606.60" y2="666.10" stroke="#333" stroke-width="1" />
<text x="603.60" y="670.10" font-size="10.6" text-anchor="end" fill="#222" font-weight="normal" font-style="normal"  stroke="#222" stroke-width="0.13">20</text>
<line x1="603.60" y1="692.50" x2="606.60" y2="692.50" stroke="#333" stroke-width="1" />
<text x="603.60" y="696.50" font-size="10.6" text-anchor="end" fill="#222" font-weight="normal" font-style="normal"  stroke="#222" stroke-width="0.13">0</text>
<text x="606.60" y="709.80" font-size="10.6" text-anchor="middle" fill="#222" font-weight="normal" font-style="normal"  stroke="#222" stroke-width="0.13">0</text>
<text x="634.60" y="709.80" font-size="10.6" text-anchor="middle" fill="#222" font-weight="normal" font-style="normal"  stroke="#222" stroke-width="0.13">1</text>
<text x="662.60" y="709.80" font-size="10.6" text-anchor="middle" fill="#222" font-weight="normal" font-style="normal"  stroke="#222" stroke-width="0.13">2</text>
<text x="0" y="0" font-size="10.6" text-anchor="middle" fill="#222" transform="translate(586.80,661.00) rotate(-90)" stroke="#222" stroke-width="0.13">24-HC (ng/mL)</text>
<line x1="487.40" y1="716.40" x2="675.80" y2="716.40" stroke="#333" stroke-width="1.1" />
<text x="516.8" y="729.2" font-size="10.4" fill="#222" stroke="#222" stroke-width="0.13"><tspan font-style="italic">Oscillibacter</tspan> abundance (%)</text>
</svg></body></html>
